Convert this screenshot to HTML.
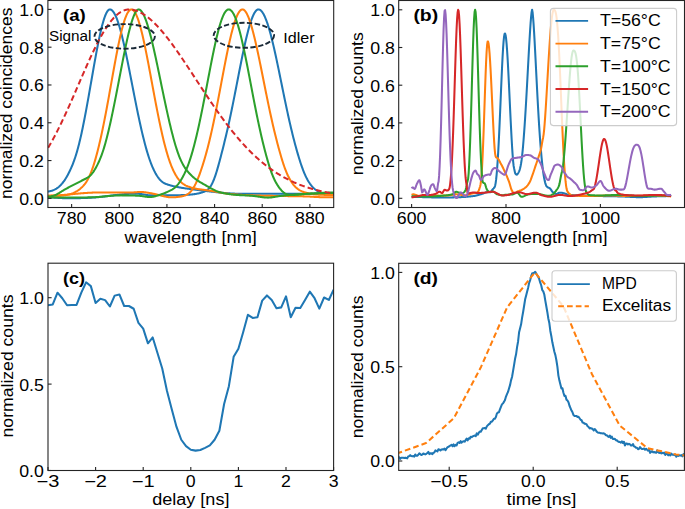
<!DOCTYPE html>
<html><head><meta charset="utf-8"><title>figure</title>
<style>html,body{margin:0;padding:0;background:#fff;width:685px;height:509px;overflow:hidden;}svg text{font-family:"Liberation Sans", sans-serif;fill:#000;}</style>
</head><body>
<svg width="685" height="509" viewBox="0 0 685 509" style="position:absolute;left:0;top:0;font-family:'Liberation Sans', sans-serif;">
<rect x="0" y="0" width="685" height="509" fill="#fff"/>
<defs>
<clipPath id="clipA"><rect x="47.90" y="0.50" width="285.80" height="207.00"/></clipPath>
<clipPath id="clipB"><rect x="398.70" y="0.50" width="285.80" height="207.00"/></clipPath>
<clipPath id="clipC"><rect x="48.00" y="263.20" width="285.60" height="207.30"/></clipPath>
<clipPath id="clipD"><rect x="398.70" y="263.30" width="285.70" height="207.10"/></clipPath>
</defs>
<g clip-path="url(#clipA)">
<polyline points="46.00,191.79 46.50,191.71 47.00,191.64 47.50,191.57 48.00,191.51 48.50,191.44 49.00,191.37 49.50,191.28 50.00,191.19 50.50,191.08 51.00,190.96 51.50,190.83 52.00,190.68 52.50,190.51 53.00,190.33 53.50,190.13 54.00,189.91 54.50,189.68 55.00,189.42 55.50,189.15 56.00,188.85 56.50,188.54 57.00,188.21 57.50,187.85 58.00,187.48 58.50,187.08 59.00,186.66 59.50,186.21 60.00,185.74 60.50,185.25 61.00,184.73 61.50,184.18 62.00,183.61 62.50,183.01 63.00,182.38 63.50,181.73 64.00,181.04 64.50,180.33 65.00,179.58 65.50,178.81 66.00,178.00 66.50,177.17 67.00,176.30 67.50,175.41 68.00,174.49 68.50,173.53 69.00,172.55 69.50,171.54 70.00,170.49 70.50,169.42 71.00,168.31 71.50,167.17 72.00,165.99 72.50,164.78 73.00,163.52 73.50,162.21 74.00,160.86 74.50,159.46 75.00,158.01 75.50,156.50 76.00,154.92 76.50,153.29 77.00,151.59 77.50,149.83 78.00,148.00 78.50,146.11 79.00,144.15 79.50,142.12 80.00,140.04 80.50,137.89 81.00,135.68 81.50,133.41 82.00,131.09 82.50,128.71 83.00,126.29 83.50,123.82 84.00,121.31 84.50,118.75 85.00,116.15 85.50,113.52 86.00,110.85 86.50,108.14 87.00,105.41 87.50,102.65 88.00,99.87 88.50,97.07 89.00,94.24 89.50,91.40 90.00,88.55 90.50,85.69 91.00,82.82 91.50,79.95 92.00,77.08 92.50,74.21 93.00,71.36 93.50,68.51 94.00,65.68 94.50,62.88 95.00,60.09 95.50,57.34 96.00,54.62 96.50,51.93 97.00,49.29 97.50,46.69 98.00,44.15 98.50,41.65 99.00,39.22 99.50,36.85 100.00,34.55 100.50,32.32 101.00,30.17 101.50,28.10 102.00,26.12 102.50,24.22 103.00,22.42 103.50,20.72 104.00,19.12 104.50,17.63 105.00,16.25 105.50,14.98 106.00,13.83 106.50,12.80 107.00,11.90 107.50,11.12 108.00,10.49 108.50,9.99 109.00,9.64 109.50,9.44 110.00,9.41 110.50,9.50 111.00,9.68 111.50,9.97 112.00,10.35 112.50,10.82 113.00,11.40 113.50,12.06 114.00,12.82 114.50,13.67 115.00,14.61 115.50,15.63 116.00,16.75 116.50,17.94 117.00,19.23 117.50,20.59 118.00,22.03 118.50,23.54 119.00,25.14 119.50,26.80 120.00,28.53 120.50,30.33 121.00,32.20 121.50,34.12 122.00,36.11 122.50,38.15 123.00,40.25 123.50,42.39 124.00,44.59 124.50,46.83 125.00,49.11 125.50,51.43 126.00,53.79 126.50,56.18 127.00,58.60 127.50,61.05 128.00,63.52 128.50,66.02 129.00,68.53 129.50,71.06 130.00,73.60 130.50,76.15 131.00,78.71 131.50,81.28 132.00,83.84 132.50,86.41 133.00,88.97 133.50,91.53 134.00,94.08 134.50,96.62 135.00,99.15 135.50,101.66 136.00,104.15 136.50,106.63 137.00,109.08 137.50,111.52 138.00,113.93 138.50,116.31 139.00,118.66 139.50,120.99 140.00,123.28 140.50,125.54 141.00,127.77 141.50,129.96 142.00,132.12 142.50,134.23 143.00,136.31 143.50,138.35 144.00,140.34 144.50,142.29 145.00,144.20 145.50,146.06 146.00,147.87 146.50,149.64 147.00,151.36 147.50,153.03 148.00,154.65 148.50,156.22 149.00,157.74 149.50,159.22 150.00,160.64 150.50,162.02 151.00,163.35 151.50,164.63 152.00,165.86 152.50,167.05 153.00,168.19 153.50,169.29 154.00,170.34 154.50,171.35 155.00,172.32 155.50,173.25 156.00,174.13 156.50,174.97 157.00,175.78 157.50,176.54 158.00,177.27 158.50,177.95 159.00,178.60 159.50,179.20 160.00,179.77 160.50,180.30 161.00,180.79 161.50,181.24 162.00,181.66 162.50,182.04 163.00,182.39 163.50,182.71 164.00,183.00 164.50,183.27 165.00,183.51 165.50,183.74 166.00,183.94 166.50,184.14 167.00,184.32 167.50,184.49 168.00,184.66 168.50,184.81 169.00,184.97 169.50,185.11 170.00,185.26 170.50,185.40 171.00,185.54 171.50,185.67 172.00,185.80 172.50,185.92 173.00,186.05 173.50,186.16 174.00,186.28 174.50,186.39 175.00,186.50 175.50,186.61 176.00,186.72 176.50,186.82 177.00,186.93 177.50,187.03 178.00,187.13 178.50,187.23 179.00,187.33 179.50,187.42 180.00,187.52 180.50,187.61 181.00,187.70 181.50,187.78 182.00,187.87 182.50,187.95 183.00,188.03 183.50,188.11 184.00,188.18 184.50,188.26 185.00,188.33 185.50,188.40 186.00,188.46 186.50,188.53 187.00,188.60 187.50,188.66 188.00,188.73 188.50,188.79 189.00,188.85 189.50,188.92 190.00,188.98 190.50,189.04 191.00,189.11 191.50,189.17 192.00,189.23 192.50,189.30 193.00,189.36 193.50,189.43 194.00,189.49 194.50,189.55 195.00,189.62 195.50,189.68 196.00,189.74 196.50,189.81 197.00,189.87 197.50,189.93 198.00,190.00 198.50,190.06 199.00,190.12 199.50,190.19 200.00,190.25 200.50,190.32 201.00,190.38 201.50,190.44 202.00,190.51 202.50,190.57 203.00,190.63 203.50,190.69 204.00,190.75 204.50,190.81 205.00,190.88 205.50,190.94 206.00,191.00 206.50,191.05 207.00,191.11 207.50,191.17 208.00,191.23 208.50,191.29 209.00,191.35 209.50,191.40 210.00,191.46 210.50,191.52 211.00,191.57 211.50,191.63 212.00,191.69 212.50,191.74 213.00,191.80 213.50,191.85 214.00,191.91 214.50,191.96 215.00,192.01 215.50,192.07 216.00,192.12 216.50,192.18 217.00,192.23 217.50,192.28 218.00,192.34 218.50,192.39 219.00,192.44 219.50,192.50 220.00,192.55 220.50,192.60 221.00,192.65 221.50,192.70 222.00,192.75 222.50,192.80 223.00,192.85 223.50,192.89 224.00,192.94 224.50,192.98 225.00,193.03 225.50,193.07 226.00,193.11 226.50,193.15 227.00,193.18 227.50,193.22 228.00,193.26 228.50,193.29 229.00,193.33 229.50,193.36 230.00,193.39 230.50,193.42 231.00,193.45 231.50,193.48 232.00,193.51 232.50,193.54 233.00,193.57 233.50,193.59 234.00,193.62 234.50,193.64 235.00,193.66 235.50,193.68 236.00,193.70 236.50,193.72 237.00,193.73 237.50,193.75 238.00,193.76 238.50,193.77 239.00,193.78 239.50,193.79 240.00,193.79 240.50,193.80 241.00,193.80 241.50,193.81 242.00,193.81 242.50,193.81 243.00,193.81 243.50,193.81 244.00,193.81 244.50,193.81 245.00,193.81 245.50,193.81 246.00,193.81 246.50,193.82 247.00,193.82 247.50,193.82 248.00,193.82 248.50,193.82 249.00,193.82 249.50,193.82 250.00,193.82 250.50,193.82 251.00,193.82 251.50,193.82 252.00,193.82 252.50,193.82 253.00,193.82 253.50,193.82 254.00,193.82 254.50,193.82 255.00,193.82 255.50,193.82 256.00,193.82 256.50,193.82 257.00,193.82 257.50,193.82 258.00,193.82 258.50,193.82 259.00,193.82 259.50,193.82 260.00,193.82 260.50,193.82 261.00,193.82 261.50,193.82 262.00,193.82 262.50,193.82 263.00,193.82 263.50,193.82 264.00,193.82 264.50,193.82 265.00,193.82 265.50,193.82 266.00,193.82 266.50,193.82 267.00,193.82 267.50,193.82 268.00,193.82 268.50,193.82 269.00,193.82 269.50,193.82 270.00,193.82 270.50,193.82 271.00,193.82 271.50,193.82 272.00,193.82 272.50,193.82 273.00,193.82 273.50,193.82 274.00,193.82 274.50,193.82 275.00,193.82 275.50,193.82 276.00,193.82 276.50,193.82 277.00,193.82 277.50,193.82 278.00,193.82 278.50,193.82 279.00,193.82 279.50,193.82 280.00,193.82 280.50,193.82 281.00,193.82 281.50,193.82 282.00,193.82 282.50,193.82 283.00,193.82 283.50,193.82 284.00,193.82 284.50,193.82 285.00,193.82 285.50,193.82 286.00,193.82 286.50,193.82 287.00,193.82 287.50,193.82 288.00,193.82 288.50,193.82 289.00,193.82 289.50,193.82 290.00,193.82 290.50,193.82 291.00,193.82 291.50,193.82 292.00,193.82 292.50,193.82 293.00,193.82 293.50,193.82 294.00,193.82 294.50,193.82 295.00,193.82 295.50,193.82 296.00,193.82 296.50,193.82 297.00,193.82 297.50,193.82 298.00,193.82 298.50,193.82 299.00,193.82 299.50,193.82 300.00,193.82 300.50,193.82 301.00,193.82 301.50,193.82 302.00,193.82 302.50,193.82 303.00,193.82 303.50,193.82 304.00,193.82 304.50,193.82 305.00,193.82 305.50,193.82 306.00,193.82 306.50,193.82 307.00,193.82 307.50,193.82 308.00,193.82 308.50,193.82 309.00,193.82 309.50,193.82 310.00,193.82 310.50,193.82 311.00,193.82 311.50,193.82 312.00,193.82 312.50,193.82 313.00,193.82 313.50,193.82 314.00,193.82 314.50,193.82 315.00,193.82 315.50,193.82 316.00,193.82 316.50,193.82 317.00,193.82 317.50,193.82 318.00,193.82 318.50,193.82 319.00,193.82 319.50,193.82 320.00,193.82 320.50,193.82 321.00,193.82 321.50,193.82 322.00,193.82 322.50,193.82 323.00,193.82 323.50,193.82 324.00,193.82 324.50,193.82 325.00,193.82 325.50,193.82 326.00,193.82 326.50,193.82 327.00,193.82 327.50,193.82 328.00,193.82 328.50,193.82 329.00,193.82 329.50,193.82 330.00,193.82 330.50,193.82 331.00,193.82 331.50,193.82 332.00,193.82 332.50,193.82 333.00,193.82 333.50,193.82 334.00,193.82 334.50,193.82 335.00,193.82 335.50,193.82 336.00,193.82" fill="none" stroke="#1f77b4" stroke-width="2.05" stroke-linejoin="round" stroke-linecap="butt"/>
<polyline points="46.00,197.41 46.50,197.42 47.00,197.42 47.50,197.42 48.00,197.43 48.50,197.44 49.00,197.45 49.50,197.46 50.00,197.47 50.50,197.48 51.00,197.50 51.50,197.51 52.00,197.53 52.50,197.55 53.00,197.57 53.50,197.60 54.00,197.62 54.50,197.65 55.00,197.68 55.50,197.70 56.00,197.73 56.50,197.76 57.00,197.79 57.50,197.82 58.00,197.86 58.50,197.89 59.00,197.92 59.50,197.95 60.00,197.98 60.50,198.01 61.00,198.04 61.50,198.07 62.00,198.10 62.50,198.12 63.00,198.15 63.50,198.17 64.00,198.19 64.50,198.22 65.00,198.23 65.50,198.25 66.00,198.27 66.50,198.28 67.00,198.29 67.50,198.30 68.00,198.31 68.50,198.31 69.00,198.32 69.50,198.32 70.00,198.32 70.50,198.32 71.00,198.32 71.50,198.32 72.00,198.31 72.50,198.31 73.00,198.30 73.50,198.29 74.00,198.28 74.50,198.28 75.00,198.27 75.50,198.25 76.00,198.24 76.50,198.23 77.00,198.22 77.50,198.21 78.00,198.19 78.50,198.18 79.00,198.16 79.50,198.15 80.00,198.13 80.50,198.12 81.00,198.10 81.50,198.08 82.00,198.07 82.50,198.05 83.00,198.03 83.50,198.01 84.00,197.99 84.50,197.98 85.00,197.96 85.50,197.94 86.00,197.92 86.50,197.90 87.00,197.88 87.50,197.86 88.00,197.83 88.50,197.81 89.00,197.79 89.50,197.77 90.00,197.74 90.50,197.71 91.00,197.69 91.50,197.66 92.00,197.63 92.50,197.60 93.00,197.57 93.50,197.53 94.00,197.50 94.50,197.46 95.00,197.42 95.50,197.38 96.00,197.34 96.50,197.30 97.00,197.25 97.50,197.21 98.00,197.16 98.50,197.11 99.00,197.06 99.50,197.01 100.00,196.96 100.50,196.90 101.00,196.85 101.50,196.80 102.00,196.74 102.50,196.68 103.00,196.63 103.50,196.57 104.00,196.51 104.50,196.45 105.00,196.39 105.50,196.33 106.00,196.27 106.50,196.21 107.00,196.14 107.50,196.08 108.00,196.02 108.50,195.96 109.00,195.89 109.50,195.83 110.00,195.77 110.50,195.71 111.00,195.64 111.50,195.58 112.00,195.52 112.50,195.45 113.00,195.39 113.50,195.33 114.00,195.27 114.50,195.21 115.00,195.14 115.50,195.08 116.00,195.02 116.50,194.97 117.00,194.91 117.50,194.85 118.00,194.79 118.50,194.74 119.00,194.68 119.50,194.63 120.00,194.57 120.50,194.52 121.00,194.47 121.50,194.42 122.00,194.37 122.50,194.32 123.00,194.27 123.50,194.23 124.00,194.18 124.50,194.14 125.00,194.10 125.50,194.06 126.00,194.02 126.50,193.99 127.00,193.95 127.50,193.92 128.00,193.89 128.50,193.86 129.00,193.83 129.50,193.81 130.00,193.78 130.50,193.76 131.00,193.74 131.50,193.73 132.00,193.71 132.50,193.70 133.00,193.69 133.50,193.69 134.00,193.68 134.50,193.68 135.00,193.69 135.50,193.69 136.00,193.70 136.50,193.72 137.00,193.73 137.50,193.75 138.00,193.78 138.50,193.81 139.00,193.85 139.50,193.89 140.00,193.93 140.50,193.98 141.00,194.04 141.50,194.10 142.00,194.17 142.50,194.25 143.00,194.33 143.50,194.41 144.00,194.49 144.50,194.58 145.00,194.67 145.50,194.76 146.00,194.85 146.50,194.93 147.00,195.01 147.50,195.09 148.00,195.16 148.50,195.21 149.00,195.26 149.50,195.30 150.00,195.33 150.50,195.35 151.00,195.35 151.50,195.35 152.00,195.33 152.50,195.31 153.00,195.28 153.50,195.25 154.00,195.22 154.50,195.18 155.00,195.15 155.50,195.12 156.00,195.10 156.50,195.08 157.00,195.06 157.50,195.05 158.00,195.05 158.50,195.05 159.00,195.05 159.50,195.06 160.00,195.07 160.50,195.08 161.00,195.09 161.50,195.10 162.00,195.12 162.50,195.13 163.00,195.15 163.50,195.17 164.00,195.18 164.50,195.20 165.00,195.21 165.50,195.23 166.00,195.24 166.50,195.25 167.00,195.27 167.50,195.28 168.00,195.29 168.50,195.30 169.00,195.31 169.50,195.31 170.00,195.32 170.50,195.32 171.00,195.33 171.50,195.33 172.00,195.33 172.50,195.33 173.00,195.33 173.50,195.32 174.00,195.32 174.50,195.32 175.00,195.31 175.50,195.30 176.00,195.29 176.50,195.28 177.00,195.27 177.50,195.26 178.00,195.25 178.50,195.23 179.00,195.22 179.50,195.20 180.00,195.18 180.50,195.16 181.00,195.14 181.50,195.12 182.00,195.10 182.50,195.08 183.00,195.05 183.50,195.03 184.00,195.00 184.50,194.98 185.00,194.95 185.50,194.92 186.00,194.90 186.50,194.87 187.00,194.84 187.50,194.81 188.00,194.78 188.50,194.75 189.00,194.71 189.50,194.67 190.00,194.64 190.50,194.59 191.00,194.55 191.50,194.50 192.00,194.45 192.50,194.39 193.00,194.33 193.50,194.26 194.00,194.20 194.50,194.12 195.00,194.04 195.50,193.96 196.00,193.88 196.50,193.78 197.00,193.69 197.50,193.59 198.00,193.49 198.50,193.38 199.00,193.26 199.50,193.14 200.00,193.02 200.50,192.89 201.00,192.75 201.50,192.61 202.00,192.46 202.50,192.30 203.00,192.13 203.50,191.96 204.00,191.77 204.50,191.56 205.00,191.34 205.50,191.10 206.00,190.83 206.50,190.53 207.00,190.19 207.50,189.81 208.00,189.39 208.50,188.91 209.00,188.38 209.50,187.78 210.00,187.12 210.50,186.40 211.00,185.60 211.50,184.74 212.00,183.79 212.50,182.78 213.00,181.69 213.50,180.52 214.00,179.28 214.50,177.96 215.00,176.57 215.50,175.11 216.00,173.58 216.50,171.99 217.00,170.34 217.50,168.65 218.00,166.90 218.50,165.11 219.00,163.29 219.50,161.44 220.00,159.56 220.50,157.66 221.00,155.75 221.50,153.81 222.00,151.86 222.50,149.89 223.00,147.91 223.50,145.91 224.00,143.90 224.50,141.86 225.00,139.81 225.50,137.74 226.00,135.64 226.50,133.52 227.00,131.37 227.50,129.20 228.00,126.99 228.50,124.75 229.00,122.49 229.50,120.20 230.00,117.87 230.50,115.52 231.00,113.14 231.50,110.74 232.00,108.31 232.50,105.86 233.00,103.39 233.50,100.89 234.00,98.38 234.50,95.86 235.00,93.32 235.50,90.77 236.00,88.21 236.50,85.65 237.00,83.08 237.50,80.51 238.00,77.94 238.50,75.38 239.00,72.82 239.50,70.27 240.00,67.73 240.50,65.21 241.00,62.71 241.50,60.22 242.00,57.76 242.50,55.33 243.00,52.93 243.50,50.56 244.00,48.22 244.50,45.93 245.00,43.67 245.50,41.47 246.00,39.31 246.50,37.20 247.00,35.15 247.50,33.15 248.00,31.22 248.50,29.34 249.00,27.54 249.50,25.80 250.00,24.14 250.50,22.55 251.00,21.04 251.50,19.61 252.00,18.26 252.50,17.00 253.00,15.82 253.50,14.74 254.00,13.75 254.50,12.85 255.00,12.05 255.50,11.35 256.00,10.76 256.50,10.26 257.00,9.88 257.50,9.60 258.00,9.44 258.50,9.40 259.00,9.47 259.50,9.63 260.00,9.88 260.50,10.22 261.00,10.64 261.50,11.16 262.00,11.76 262.50,12.44 263.00,13.21 263.50,14.06 264.00,15.00 264.50,16.01 265.00,17.11 265.50,18.28 266.00,19.52 266.50,20.84 267.00,22.23 267.50,23.69 268.00,25.22 268.50,26.82 269.00,28.48 269.50,30.20 270.00,31.98 270.50,33.81 271.00,35.70 271.50,37.65 272.00,39.64 272.50,41.68 273.00,43.76 273.50,45.89 274.00,48.06 274.50,50.26 275.00,52.50 275.50,54.77 276.00,57.07 276.50,59.39 277.00,61.74 277.50,64.11 278.00,66.51 278.50,68.91 279.00,71.33 279.50,73.77 280.00,76.21 280.50,78.66 281.00,81.11 281.50,83.56 282.00,86.02 282.50,88.47 283.00,90.92 283.50,93.36 284.00,95.79 284.50,98.21 285.00,100.62 285.50,103.01 286.00,105.39 286.50,107.75 287.00,110.09 287.50,112.40 288.00,114.70 288.50,116.97 289.00,119.21 289.50,121.43 290.00,123.62 290.50,125.79 291.00,127.92 291.50,130.02 292.00,132.10 292.50,134.14 293.00,136.15 293.50,138.13 294.00,140.08 294.50,142.00 295.00,143.90 295.50,145.76 296.00,147.59 296.50,149.39 297.00,151.16 297.50,152.90 298.00,154.62 298.50,156.30 299.00,157.95 299.50,159.56 300.00,161.14 300.50,162.69 301.00,164.20 301.50,165.66 302.00,167.09 302.50,168.47 303.00,169.81 303.50,171.11 304.00,172.35 304.50,173.55 305.00,174.70 305.50,175.81 306.00,176.87 306.50,177.88 307.00,178.84 307.50,179.77 308.00,180.64 308.50,181.48 309.00,182.28 309.50,183.04 310.00,183.77 310.50,184.45 311.00,185.11 311.50,185.72 312.00,186.31 312.50,186.87 313.00,187.39 313.50,187.89 314.00,188.35 314.50,188.79 315.00,189.21 315.50,189.60 316.00,189.97 316.50,190.32 317.00,190.65 317.50,190.96 318.00,191.26 318.50,191.54 319.00,191.81 319.50,192.07 320.00,192.32 320.50,192.56 321.00,192.78 321.50,193.00 322.00,193.22 322.50,193.42 323.00,193.62 323.50,193.80 324.00,193.97 324.50,194.14 325.00,194.29 325.50,194.42 326.00,194.54 326.50,194.65 327.00,194.74 327.50,194.82 328.00,194.88 328.50,194.92 329.00,194.94 329.50,194.95 330.00,194.94 330.50,194.92 331.00,194.87 331.50,194.82 332.00,194.75 332.50,194.66 333.00,194.56 333.50,194.45 334.00,194.32 334.50,194.19 335.00,194.04 335.50,193.88 336.00,193.71" fill="none" stroke="#1f77b4" stroke-width="2.05" stroke-linejoin="round" stroke-linecap="butt"/>
<polyline points="46.00,195.72 46.50,195.71 47.00,195.71 47.50,195.71 48.00,195.71 48.50,195.71 49.00,195.71 49.50,195.71 50.00,195.71 50.50,195.71 51.00,195.71 51.50,195.71 52.00,195.71 52.50,195.71 53.00,195.71 53.50,195.71 54.00,195.71 54.50,195.71 55.00,195.71 55.50,195.71 56.00,195.71 56.50,195.70 57.00,195.70 57.50,195.69 58.00,195.68 58.50,195.67 59.00,195.66 59.50,195.64 60.00,195.63 60.50,195.61 61.00,195.58 61.50,195.55 62.00,195.52 62.50,195.49 63.00,195.45 63.50,195.40 64.00,195.35 64.50,195.29 65.00,195.23 65.50,195.16 66.00,195.09 66.50,195.01 67.00,194.92 67.50,194.82 68.00,194.72 68.50,194.60 69.00,194.48 69.50,194.35 70.00,194.21 70.50,194.06 71.00,193.90 71.50,193.73 72.00,193.54 72.50,193.35 73.00,193.15 73.50,192.93 74.00,192.70 74.50,192.47 75.00,192.21 75.50,191.95 76.00,191.67 76.50,191.38 77.00,191.08 77.50,190.76 78.00,190.43 78.50,190.08 79.00,189.71 79.50,189.33 80.00,188.93 80.50,188.51 81.00,188.08 81.50,187.62 82.00,187.14 82.50,186.65 83.00,186.12 83.50,185.58 84.00,185.00 84.50,184.40 85.00,183.76 85.50,183.09 86.00,182.38 86.50,181.63 87.00,180.83 87.50,179.98 88.00,179.08 88.50,178.13 89.00,177.12 89.50,176.05 90.00,174.93 90.50,173.75 91.00,172.51 91.50,171.21 92.00,169.86 92.50,168.45 93.00,166.98 93.50,165.46 94.00,163.89 94.50,162.26 95.00,160.59 95.50,158.86 96.00,157.08 96.50,155.25 97.00,153.38 97.50,151.46 98.00,149.49 98.50,147.47 99.00,145.41 99.50,143.30 100.00,141.15 100.50,138.96 101.00,136.71 101.50,134.43 102.00,132.11 102.50,129.74 103.00,127.33 103.50,124.88 104.00,122.39 104.50,119.87 105.00,117.31 105.50,114.72 106.00,112.10 106.50,109.45 107.00,106.77 107.50,104.06 108.00,101.34 108.50,98.59 109.00,95.83 109.50,93.05 110.00,90.26 110.50,87.47 111.00,84.67 111.50,81.87 112.00,79.07 112.50,76.27 113.00,73.49 113.50,70.71 114.00,67.96 114.50,65.22 115.00,62.51 115.50,59.82 116.00,57.16 116.50,54.54 117.00,51.96 117.50,49.42 118.00,46.93 118.50,44.49 119.00,42.10 119.50,39.77 120.00,37.50 120.50,35.29 121.00,33.15 121.50,31.09 122.00,29.10 122.50,27.19 123.00,25.36 123.50,23.62 124.00,21.97 124.50,20.41 125.00,18.94 125.50,17.57 126.00,16.29 126.50,15.12 127.00,14.06 127.50,13.10 128.00,12.24 128.50,11.50 129.00,10.86 129.50,10.34 130.00,9.93 130.50,9.64 131.00,9.46 131.50,9.40 132.00,9.47 132.50,9.66 133.00,9.98 133.50,10.41 134.00,10.96 134.50,11.62 135.00,12.39 135.50,13.27 136.00,14.26 136.50,15.34 137.00,16.53 137.50,17.81 138.00,19.19 138.50,20.66 139.00,22.22 139.50,23.86 140.00,25.59 140.50,27.40 141.00,29.28 141.50,31.24 142.00,33.26 142.50,35.36 143.00,37.51 143.50,39.73 144.00,42.00 144.50,44.33 145.00,46.70 145.50,49.12 146.00,51.59 146.50,54.09 147.00,56.62 147.50,59.19 148.00,61.79 148.50,64.41 149.00,67.05 149.50,69.71 150.00,72.38 150.50,75.06 151.00,77.76 151.50,80.45 152.00,83.15 152.50,85.85 153.00,88.54 153.50,91.23 154.00,93.90 154.50,96.57 155.00,99.22 155.50,101.85 156.00,104.46 156.50,107.05 157.00,109.61 157.50,112.15 158.00,114.66 158.50,117.14 159.00,119.59 159.50,122.00 160.00,124.38 160.50,126.72 161.00,129.02 161.50,131.28 162.00,133.50 162.50,135.68 163.00,137.81 163.50,139.89 164.00,141.93 164.50,143.91 165.00,145.85 165.50,147.74 166.00,149.57 166.50,151.35 167.00,153.08 167.50,154.75 168.00,156.38 168.50,157.94 169.00,159.46 169.50,160.92 170.00,162.33 170.50,163.69 171.00,165.00 171.50,166.26 172.00,167.47 172.50,168.63 173.00,169.75 173.50,170.82 174.00,171.84 174.50,172.82 175.00,173.76 175.50,174.66 176.00,175.52 176.50,176.33 177.00,177.11 177.50,177.85 178.00,178.55 178.50,179.22 179.00,179.85 179.50,180.44 180.00,181.00 180.50,181.53 181.00,182.03 181.50,182.49 182.00,182.93 182.50,183.34 183.00,183.73 183.50,184.09 184.00,184.42 184.50,184.74 185.00,185.03 185.50,185.31 186.00,185.57 186.50,185.81 187.00,186.04 187.50,186.25 188.00,186.46 188.50,186.65 189.00,186.83 189.50,187.00 190.00,187.17 190.50,187.32 191.00,187.48 191.50,187.62 192.00,187.76 192.50,187.90 193.00,188.03 193.50,188.15 194.00,188.27 194.50,188.39 195.00,188.50 195.50,188.61 196.00,188.71 196.50,188.81 197.00,188.90 197.50,188.99 198.00,189.08 198.50,189.16 199.00,189.23 199.50,189.31 200.00,189.38 200.50,189.45 201.00,189.51 201.50,189.58 202.00,189.64 202.50,189.70 203.00,189.77 203.50,189.83 204.00,189.89 204.50,189.96 205.00,190.02 205.50,190.09 206.00,190.15 206.50,190.22 207.00,190.29 207.50,190.36 208.00,190.44 208.50,190.51 209.00,190.58 209.50,190.66 210.00,190.73 210.50,190.81 211.00,190.89 211.50,190.97 212.00,191.05 212.50,191.13 213.00,191.22 213.50,191.30 214.00,191.39 214.50,191.48 215.00,191.57 215.50,191.66 216.00,191.76 216.50,191.85 217.00,191.95 217.50,192.04 218.00,192.14 218.50,192.24 219.00,192.33 219.50,192.42 220.00,192.52 220.50,192.61 221.00,192.70 221.50,192.78 222.00,192.87 222.50,192.95 223.00,193.03 223.50,193.11 224.00,193.19 224.50,193.26 225.00,193.33 225.50,193.41 226.00,193.48 226.50,193.54 227.00,193.61 227.50,193.67 228.00,193.74 228.50,193.80 229.00,193.86 229.50,193.92 230.00,193.97 230.50,194.03 231.00,194.08 231.50,194.13 232.00,194.18 232.50,194.22 233.00,194.27 233.50,194.31 234.00,194.35 234.50,194.39 235.00,194.43 235.50,194.47 236.00,194.50 236.50,194.54 237.00,194.57 237.50,194.60 238.00,194.64 238.50,194.67 239.00,194.70 239.50,194.73 240.00,194.76 240.50,194.79 241.00,194.82 241.50,194.84 242.00,194.87 242.50,194.90 243.00,194.93 243.50,194.95 244.00,194.98 244.50,195.00 245.00,195.03 245.50,195.05 246.00,195.08 246.50,195.10 247.00,195.13 247.50,195.15 248.00,195.17 248.50,195.19 249.00,195.22 249.50,195.24 250.00,195.26 250.50,195.28 251.00,195.30 251.50,195.32 252.00,195.34 252.50,195.36 253.00,195.38 253.50,195.40 254.00,195.42 254.50,195.43 255.00,195.45 255.50,195.47 256.00,195.49 256.50,195.50 257.00,195.52 257.50,195.54 258.00,195.55 258.50,195.57 259.00,195.58 259.50,195.60 260.00,195.61 260.50,195.63 261.00,195.64 261.50,195.65 262.00,195.67 262.50,195.68 263.00,195.69 263.50,195.71 264.00,195.72 264.50,195.73 265.00,195.74 265.50,195.76 266.00,195.77 266.50,195.78 267.00,195.79 267.50,195.80 268.00,195.81 268.50,195.82 269.00,195.83 269.50,195.84 270.00,195.85 270.50,195.86 271.00,195.87 271.50,195.88 272.00,195.89 272.50,195.89 273.00,195.90 273.50,195.91 274.00,195.92 274.50,195.93 275.00,195.93 275.50,195.94 276.00,195.95 276.50,195.96 277.00,195.96 277.50,195.97 278.00,195.98 278.50,195.98 279.00,195.99 279.50,196.00 280.00,196.00 280.50,196.01 281.00,196.02 281.50,196.02 282.00,196.03 282.50,196.04 283.00,196.04 283.50,196.05 284.00,196.06 284.50,196.06 285.00,196.07 285.50,196.07 286.00,196.08 286.50,196.09 287.00,196.09 287.50,196.10 288.00,196.11 288.50,196.11 289.00,196.12 289.50,196.13 290.00,196.13 290.50,196.14 291.00,196.15 291.50,196.15 292.00,196.16 292.50,196.17 293.00,196.18 293.50,196.18 294.00,196.19 294.50,196.20 295.00,196.21 295.50,196.22 296.00,196.22 296.50,196.23 297.00,196.24 297.50,196.25 298.00,196.26 298.50,196.27 299.00,196.28 299.50,196.29 300.00,196.30 300.50,196.31 301.00,196.32 301.50,196.33 302.00,196.34 302.50,196.35 303.00,196.36 303.50,196.38 304.00,196.39 304.50,196.40 305.00,196.42 305.50,196.43 306.00,196.45 306.50,196.47 307.00,196.49 307.50,196.51 308.00,196.53 308.50,196.55 309.00,196.57 309.50,196.60 310.00,196.62 310.50,196.65 311.00,196.68 311.50,196.71 312.00,196.74 312.50,196.77 313.00,196.80 313.50,196.83 314.00,196.86 314.50,196.89 315.00,196.92 315.50,196.95 316.00,196.98 316.50,197.01 317.00,197.03 317.50,197.06 318.00,197.08 318.50,197.10 319.00,197.12 319.50,197.14 320.00,197.15 320.50,197.16 321.00,197.17 321.50,197.18 322.00,197.19 322.50,197.20 323.00,197.20 323.50,197.21 324.00,197.21 324.50,197.21 325.00,197.21 325.50,197.21 326.00,197.21 326.50,197.22 327.00,197.22 327.50,197.22 328.00,197.22 328.50,197.22 329.00,197.22 329.50,197.22 330.00,197.22 330.50,197.22 331.00,197.22 331.50,197.22 332.00,197.22 332.50,197.22 333.00,197.22 333.50,197.22 334.00,197.22 334.50,197.22 335.00,197.22 335.50,197.22 336.00,197.22" fill="none" stroke="#ff7f0e" stroke-width="2.05" stroke-linejoin="round" stroke-linecap="butt"/>
<polyline points="46.00,195.70 46.50,195.70 47.00,195.70 47.50,195.69 48.00,195.69 48.50,195.68 49.00,195.68 49.50,195.67 50.00,195.66 50.50,195.65 51.00,195.64 51.50,195.63 52.00,195.62 52.50,195.60 53.00,195.59 53.50,195.57 54.00,195.55 54.50,195.53 55.00,195.51 55.50,195.48 56.00,195.46 56.50,195.43 57.00,195.40 57.50,195.38 58.00,195.35 58.50,195.31 59.00,195.28 59.50,195.25 60.00,195.22 60.50,195.18 61.00,195.14 61.50,195.11 62.00,195.07 62.50,195.03 63.00,194.99 63.50,194.95 64.00,194.91 64.50,194.87 65.00,194.82 65.50,194.78 66.00,194.74 66.50,194.69 67.00,194.65 67.50,194.60 68.00,194.56 68.50,194.51 69.00,194.46 69.50,194.42 70.00,194.37 70.50,194.32 71.00,194.28 71.50,194.23 72.00,194.18 72.50,194.13 73.00,194.08 73.50,194.04 74.00,193.99 74.50,193.94 75.00,193.89 75.50,193.85 76.00,193.80 76.50,193.75 77.00,193.71 77.50,193.66 78.00,193.61 78.50,193.57 79.00,193.52 79.50,193.48 80.00,193.43 80.50,193.39 81.00,193.35 81.50,193.31 82.00,193.26 82.50,193.22 83.00,193.18 83.50,193.14 84.00,193.11 84.50,193.07 85.00,193.03 85.50,193.00 86.00,192.96 86.50,192.93 87.00,192.90 87.50,192.86 88.00,192.83 88.50,192.80 89.00,192.78 89.50,192.75 90.00,192.72 90.50,192.70 91.00,192.68 91.50,192.66 92.00,192.64 92.50,192.62 93.00,192.60 93.50,192.59 94.00,192.57 94.50,192.56 95.00,192.55 95.50,192.54 96.00,192.53 96.50,192.52 97.00,192.52 97.50,192.51 98.00,192.51 98.50,192.50 99.00,192.50 99.50,192.50 100.00,192.50 100.50,192.50 101.00,192.49 101.50,192.49 102.00,192.49 102.50,192.49 103.00,192.49 103.50,192.49 104.00,192.49 104.50,192.49 105.00,192.49 105.50,192.49 106.00,192.49 106.50,192.49 107.00,192.49 107.50,192.49 108.00,192.49 108.50,192.49 109.00,192.49 109.50,192.49 110.00,192.49 110.50,192.49 111.00,192.49 111.50,192.49 112.00,192.49 112.50,192.49 113.00,192.49 113.50,192.49 114.00,192.49 114.50,192.49 115.00,192.49 115.50,192.49 116.00,192.49 116.50,192.49 117.00,192.49 117.50,192.49 118.00,192.49 118.50,192.49 119.00,192.49 119.50,192.49 120.00,192.49 120.50,192.49 121.00,192.49 121.50,192.49 122.00,192.49 122.50,192.49 123.00,192.49 123.50,192.49 124.00,192.49 124.50,192.49 125.00,192.49 125.50,192.49 126.00,192.49 126.50,192.49 127.00,192.49 127.50,192.49 128.00,192.49 128.50,192.49 129.00,192.49 129.50,192.49 130.00,192.49 130.50,192.48 131.00,192.48 131.50,192.47 132.00,192.46 132.50,192.45 133.00,192.43 133.50,192.41 134.00,192.39 134.50,192.36 135.00,192.33 135.50,192.29 136.00,192.26 136.50,192.22 137.00,192.17 137.50,192.13 138.00,192.09 138.50,192.06 139.00,192.03 139.50,192.01 140.00,191.99 140.50,191.98 141.00,191.98 141.50,191.99 142.00,192.01 142.50,192.04 143.00,192.08 143.50,192.12 144.00,192.17 144.50,192.23 145.00,192.30 145.50,192.36 146.00,192.44 146.50,192.51 147.00,192.59 147.50,192.67 148.00,192.75 148.50,192.84 149.00,192.93 149.50,193.01 150.00,193.10 150.50,193.19 151.00,193.29 151.50,193.38 152.00,193.48 152.50,193.58 153.00,193.67 153.50,193.78 154.00,193.88 154.50,193.98 155.00,194.09 155.50,194.20 156.00,194.31 156.50,194.42 157.00,194.54 157.50,194.65 158.00,194.77 158.50,194.89 159.00,195.01 159.50,195.14 160.00,195.26 160.50,195.39 161.00,195.52 161.50,195.65 162.00,195.78 162.50,195.90 163.00,196.03 163.50,196.16 164.00,196.28 164.50,196.40 165.00,196.51 165.50,196.62 166.00,196.72 166.50,196.82 167.00,196.91 167.50,196.99 168.00,197.06 168.50,197.13 169.00,197.18 169.50,197.23 170.00,197.27 170.50,197.30 171.00,197.32 171.50,197.33 172.00,197.34 172.50,197.34 173.00,197.33 173.50,197.32 174.00,197.30 174.50,197.27 175.00,197.24 175.50,197.20 176.00,197.15 176.50,197.10 177.00,197.05 177.50,196.99 178.00,196.92 178.50,196.85 179.00,196.78 179.50,196.71 180.00,196.63 180.50,196.54 181.00,196.46 181.50,196.37 182.00,196.27 182.50,196.16 183.00,196.05 183.50,195.92 184.00,195.79 184.50,195.63 185.00,195.46 185.50,195.27 186.00,195.05 186.50,194.81 187.00,194.54 187.50,194.24 188.00,193.91 188.50,193.54 189.00,193.14 189.50,192.70 190.00,192.22 190.50,191.70 191.00,191.15 191.50,190.55 192.00,189.91 192.50,189.23 193.00,188.50 193.50,187.73 194.00,186.90 194.50,186.03 195.00,185.10 195.50,184.12 196.00,183.09 196.50,182.01 197.00,180.87 197.50,179.69 198.00,178.46 198.50,177.19 199.00,175.88 199.50,174.53 200.00,173.14 200.50,171.72 201.00,170.27 201.50,168.78 202.00,167.27 202.50,165.72 203.00,164.14 203.50,162.53 204.00,160.89 204.50,159.21 205.00,157.50 205.50,155.75 206.00,153.96 206.50,152.14 207.00,150.28 207.50,148.39 208.00,146.46 208.50,144.48 209.00,142.47 209.50,140.43 210.00,138.34 210.50,136.22 211.00,134.06 211.50,131.86 212.00,129.62 212.50,127.35 213.00,125.04 213.50,122.70 214.00,120.33 214.50,117.92 215.00,115.49 215.50,113.02 216.00,110.53 216.50,108.01 217.00,105.47 217.50,102.91 218.00,100.33 218.50,97.73 219.00,95.12 219.50,92.49 220.00,89.86 220.50,87.21 221.00,84.57 221.50,81.92 222.00,79.28 222.50,76.63 223.00,74.00 223.50,71.38 224.00,68.76 224.50,66.17 225.00,63.59 225.50,61.04 226.00,58.51 226.50,56.01 227.00,53.55 227.50,51.12 228.00,48.73 228.50,46.38 229.00,44.07 229.50,41.82 230.00,39.61 230.50,37.46 231.00,35.37 231.50,33.34 232.00,31.38 232.50,29.48 233.00,27.65 233.50,25.89 234.00,24.21 234.50,22.61 235.00,21.09 235.50,19.65 236.00,18.30 236.50,17.03 237.00,15.86 237.50,14.78 238.00,13.79 238.50,12.90 239.00,12.10 239.50,11.41 240.00,10.81 240.50,10.32 241.00,9.93 241.50,9.65 242.00,9.47 242.50,9.40 243.00,9.46 243.50,9.65 244.00,9.96 244.50,10.39 245.00,10.92 245.50,11.56 246.00,12.30 246.50,13.14 247.00,14.08 247.50,15.11 248.00,16.23 248.50,17.43 249.00,18.73 249.50,20.10 250.00,21.55 250.50,23.08 251.00,24.69 251.50,26.36 252.00,28.11 252.50,29.91 253.00,31.78 253.50,33.71 254.00,35.70 254.50,37.74 255.00,39.83 255.50,41.97 256.00,44.15 256.50,46.37 257.00,48.63 257.50,50.93 258.00,53.26 258.50,55.61 259.00,58.00 259.50,60.41 260.00,62.84 260.50,65.29 261.00,67.75 261.50,70.23 262.00,72.71 262.50,75.21 263.00,77.71 263.50,80.21 264.00,82.71 264.50,85.21 265.00,87.71 265.50,90.20 266.00,92.68 266.50,95.14 267.00,97.60 267.50,100.04 268.00,102.46 268.50,104.87 269.00,107.26 269.50,109.62 270.00,111.96 270.50,114.27 271.00,116.56 271.50,118.82 272.00,121.06 272.50,123.26 273.00,125.44 273.50,127.58 274.00,129.70 274.50,131.78 275.00,133.84 275.50,135.86 276.00,137.86 276.50,139.83 277.00,141.77 277.50,143.68 278.00,145.57 278.50,147.43 279.00,149.26 279.50,151.06 280.00,152.84 280.50,154.59 281.00,156.30 281.50,157.98 282.00,159.63 282.50,161.23 283.00,162.80 283.50,164.32 284.00,165.79 284.50,167.22 285.00,168.60 285.50,169.92 286.00,171.20 286.50,172.42 287.00,173.59 287.50,174.71 288.00,175.79 288.50,176.81 289.00,177.79 289.50,178.72 290.00,179.61 290.50,180.46 291.00,181.27 291.50,182.04 292.00,182.77 292.50,183.47 293.00,184.13 293.50,184.76 294.00,185.36 294.50,185.93 295.00,186.46 295.50,186.97 296.00,187.45 296.50,187.90 297.00,188.33 297.50,188.73 298.00,189.10 298.50,189.46 299.00,189.79 299.50,190.10 300.00,190.39 300.50,190.66 301.00,190.91 301.50,191.15 302.00,191.37 302.50,191.58 303.00,191.77 303.50,191.95 304.00,192.12 304.50,192.28 305.00,192.44 305.50,192.58 306.00,192.72 306.50,192.85 307.00,192.97 307.50,193.09 308.00,193.21 308.50,193.32 309.00,193.42 309.50,193.52 310.00,193.61 310.50,193.70 311.00,193.79 311.50,193.87 312.00,193.94 312.50,194.02 313.00,194.08 313.50,194.15 314.00,194.21 314.50,194.27 315.00,194.33 315.50,194.38 316.00,194.43 316.50,194.47 317.00,194.52 317.50,194.56 318.00,194.60 318.50,194.63 319.00,194.66 319.50,194.69 320.00,194.72 320.50,194.75 321.00,194.77 321.50,194.79 322.00,194.81 322.50,194.82 323.00,194.84 323.50,194.85 324.00,194.86 324.50,194.87 325.00,194.88 325.50,194.89 326.00,194.90 326.50,194.90 327.00,194.91 327.50,194.91 328.00,194.92 328.50,194.92 329.00,194.93 329.50,194.93 330.00,194.93 330.50,194.93 331.00,194.94 331.50,194.94 332.00,194.94 332.50,194.94 333.00,194.95 333.50,194.95 334.00,194.95 334.50,194.96 335.00,194.96 335.50,194.97 336.00,194.97" fill="none" stroke="#ff7f0e" stroke-width="2.05" stroke-linejoin="round" stroke-linecap="butt"/>
<polyline points="46.00,196.66 46.50,196.67 47.00,196.68 47.50,196.67 48.00,196.66 48.50,196.63 49.00,196.59 49.50,196.54 50.00,196.48 50.50,196.41 51.00,196.33 51.50,196.23 52.00,196.12 52.50,196.00 53.00,195.87 53.50,195.72 54.00,195.56 54.50,195.38 55.00,195.18 55.50,194.97 56.00,194.75 56.50,194.51 57.00,194.25 57.50,193.98 58.00,193.69 58.50,193.40 59.00,193.10 59.50,192.79 60.00,192.47 60.50,192.15 61.00,191.83 61.50,191.51 62.00,191.20 62.50,190.89 63.00,190.58 63.50,190.28 64.00,189.98 64.50,189.69 65.00,189.40 65.50,189.12 66.00,188.84 66.50,188.56 67.00,188.29 67.50,188.02 68.00,187.75 68.50,187.49 69.00,187.22 69.50,186.96 70.00,186.70 70.50,186.43 71.00,186.17 71.50,185.91 72.00,185.65 72.50,185.40 73.00,185.14 73.50,184.89 74.00,184.63 74.50,184.38 75.00,184.13 75.50,183.88 76.00,183.62 76.50,183.37 77.00,183.11 77.50,182.86 78.00,182.60 78.50,182.34 79.00,182.08 79.50,181.82 80.00,181.56 80.50,181.30 81.00,181.04 81.50,180.78 82.00,180.53 82.50,180.28 83.00,180.02 83.50,179.77 84.00,179.52 84.50,179.27 85.00,179.02 85.50,178.76 86.00,178.50 86.50,178.23 87.00,177.94 87.50,177.64 88.00,177.31 88.50,176.96 89.00,176.58 89.50,176.18 90.00,175.73 90.50,175.26 91.00,174.74 91.50,174.19 92.00,173.59 92.50,172.96 93.00,172.29 93.50,171.58 94.00,170.83 94.50,170.05 95.00,169.23 95.50,168.38 96.00,167.50 96.50,166.58 97.00,165.63 97.50,164.64 98.00,163.62 98.50,162.56 99.00,161.46 99.50,160.32 100.00,159.14 100.50,157.91 101.00,156.63 101.50,155.30 102.00,153.92 102.50,152.48 103.00,150.99 103.50,149.44 104.00,147.83 104.50,146.16 105.00,144.44 105.50,142.66 106.00,140.83 106.50,138.94 107.00,137.00 107.50,135.01 108.00,132.98 108.50,130.90 109.00,128.78 109.50,126.62 110.00,124.42 110.50,122.18 111.00,119.91 111.50,117.61 112.00,115.27 112.50,112.90 113.00,110.50 113.50,108.08 114.00,105.63 114.50,103.16 115.00,100.66 115.50,98.15 116.00,95.61 116.50,93.06 117.00,90.50 117.50,87.92 118.00,85.34 118.50,82.75 119.00,80.15 119.50,77.55 120.00,74.95 120.50,72.36 121.00,69.77 121.50,67.19 122.00,64.63 122.50,62.08 123.00,59.54 123.50,57.03 124.00,54.55 124.50,52.09 125.00,49.66 125.50,47.27 126.00,44.91 126.50,42.60 127.00,40.33 127.50,38.12 128.00,35.95 128.50,33.84 129.00,31.79 129.50,29.81 130.00,27.89 130.50,26.04 131.00,24.27 131.50,22.57 132.00,20.96 132.50,19.43 133.00,17.99 133.50,16.65 134.00,15.40 134.50,14.26 135.00,13.22 135.50,12.29 136.00,11.48 136.50,10.79 137.00,10.23 137.50,9.80 138.00,9.52 138.50,9.40 139.00,9.46 139.50,9.63 140.00,9.91 140.50,10.29 141.00,10.77 141.50,11.35 142.00,12.02 142.50,12.77 143.00,13.62 143.50,14.55 144.00,15.57 144.50,16.67 145.00,17.85 145.50,19.11 146.00,20.44 146.50,21.84 147.00,23.32 147.50,24.86 148.00,26.47 148.50,28.14 149.00,29.88 149.50,31.67 150.00,33.51 150.50,35.41 151.00,37.37 151.50,39.36 152.00,41.41 152.50,43.50 153.00,45.62 153.50,47.79 154.00,49.99 154.50,52.22 155.00,54.48 155.50,56.77 156.00,59.08 156.50,61.42 157.00,63.77 157.50,66.14 158.00,68.53 158.50,70.92 159.00,73.33 159.50,75.74 160.00,78.16 160.50,80.58 161.00,83.01 161.50,85.43 162.00,87.84 162.50,90.25 163.00,92.66 163.50,95.05 164.00,97.43 164.50,99.80 165.00,102.15 165.50,104.49 166.00,106.81 166.50,109.11 167.00,111.38 167.50,113.64 168.00,115.87 168.50,118.07 169.00,120.25 169.50,122.40 170.00,124.52 170.50,126.60 171.00,128.66 171.50,130.68 172.00,132.67 172.50,134.62 173.00,136.53 173.50,138.40 174.00,140.22 174.50,142.01 175.00,143.74 175.50,145.43 176.00,147.07 176.50,148.65 177.00,150.19 177.50,151.67 178.00,153.10 178.50,154.47 179.00,155.79 179.50,157.06 180.00,158.27 180.50,159.44 181.00,160.55 181.50,161.61 182.00,162.63 182.50,163.60 183.00,164.53 183.50,165.42 184.00,166.27 184.50,167.08 185.00,167.85 185.50,168.59 186.00,169.30 186.50,169.98 187.00,170.63 187.50,171.25 188.00,171.85 188.50,172.43 189.00,172.99 189.50,173.53 190.00,174.06 190.50,174.57 191.00,175.06 191.50,175.54 192.00,176.02 192.50,176.47 193.00,176.92 193.50,177.36 194.00,177.79 194.50,178.20 195.00,178.61 195.50,179.00 196.00,179.38 196.50,179.75 197.00,180.11 197.50,180.46 198.00,180.80 198.50,181.13 199.00,181.45 199.50,181.76 200.00,182.06 200.50,182.36 201.00,182.65 201.50,182.94 202.00,183.23 202.50,183.51 203.00,183.80 203.50,184.08 204.00,184.36 204.50,184.65 205.00,184.94 205.50,185.22 206.00,185.51 206.50,185.80 207.00,186.09 207.50,186.37 208.00,186.66 208.50,186.95 209.00,187.23 209.50,187.51 210.00,187.79 210.50,188.07 211.00,188.35 211.50,188.62 212.00,188.89 212.50,189.16 213.00,189.42 213.50,189.68 214.00,189.93 214.50,190.18 215.00,190.42 215.50,190.65 216.00,190.88 216.50,191.09 217.00,191.30 217.50,191.49 218.00,191.67 218.50,191.85 219.00,192.01 219.50,192.17 220.00,192.31 220.50,192.45 221.00,192.58 221.50,192.70 222.00,192.81 222.50,192.92 223.00,193.02 223.50,193.12 224.00,193.21 224.50,193.31 225.00,193.39 225.50,193.48 226.00,193.56 226.50,193.65 227.00,193.73 227.50,193.81 228.00,193.89 228.50,193.97 229.00,194.04 229.50,194.12 230.00,194.19 230.50,194.27 231.00,194.34 231.50,194.40 232.00,194.47 232.50,194.53 233.00,194.59 233.50,194.65 234.00,194.70 234.50,194.75 235.00,194.80 235.50,194.84 236.00,194.88 236.50,194.92 237.00,194.96 237.50,194.99 238.00,195.02 238.50,195.05 239.00,195.08 239.50,195.11 240.00,195.14 240.50,195.16 241.00,195.19 241.50,195.21 242.00,195.23 242.50,195.25 243.00,195.28 243.50,195.30 244.00,195.32 244.50,195.34 245.00,195.37 245.50,195.39 246.00,195.41 246.50,195.44 247.00,195.46 247.50,195.49 248.00,195.52 248.50,195.55 249.00,195.58 249.50,195.61 250.00,195.64 250.50,195.68 251.00,195.72 251.50,195.76 252.00,195.80 252.50,195.85 253.00,195.90 253.50,195.95 254.00,196.01 254.50,196.07 255.00,196.13 255.50,196.19 256.00,196.26 256.50,196.33 257.00,196.40 257.50,196.47 258.00,196.55 258.50,196.62 259.00,196.69 259.50,196.77 260.00,196.84 260.50,196.91 261.00,196.99 261.50,197.06 262.00,197.12 262.50,197.19 263.00,197.25 263.50,197.31 264.00,197.37 264.50,197.42 265.00,197.46 265.50,197.50 266.00,197.54 266.50,197.56 267.00,197.58 267.50,197.60 268.00,197.60 268.50,197.60 269.00,197.58 269.50,197.56 270.00,197.53 270.50,197.49 271.00,197.44 271.50,197.38 272.00,197.32 272.50,197.25 273.00,197.17 273.50,197.09 274.00,197.00 274.50,196.92 275.00,196.83 275.50,196.74 276.00,196.65 276.50,196.57 277.00,196.48 277.50,196.40 278.00,196.32 278.50,196.24 279.00,196.17 279.50,196.10 280.00,196.03 280.50,195.96 281.00,195.90 281.50,195.84 282.00,195.78 282.50,195.72 283.00,195.66 283.50,195.61 284.00,195.55 284.50,195.50 285.00,195.45 285.50,195.40 286.00,195.35 286.50,195.30 287.00,195.25 287.50,195.20 288.00,195.15 288.50,195.11 289.00,195.06 289.50,195.02 290.00,194.97 290.50,194.93 291.00,194.89 291.50,194.84 292.00,194.80 292.50,194.76 293.00,194.72 293.50,194.68 294.00,194.64 294.50,194.60 295.00,194.57 295.50,194.53 296.00,194.49 296.50,194.46 297.00,194.42 297.50,194.38 298.00,194.35 298.50,194.32 299.00,194.28 299.50,194.25 300.00,194.22 300.50,194.18 301.00,194.15 301.50,194.12 302.00,194.09 302.50,194.06 303.00,194.03 303.50,194.00 304.00,193.98 304.50,193.95 305.00,193.92 305.50,193.90 306.00,193.87 306.50,193.85 307.00,193.82 307.50,193.80 308.00,193.78 308.50,193.75 309.00,193.73 309.50,193.71 310.00,193.68 310.50,193.66 311.00,193.64 311.50,193.62 312.00,193.60 312.50,193.58 313.00,193.55 313.50,193.53 314.00,193.51 314.50,193.49 315.00,193.47 315.50,193.45 316.00,193.43 316.50,193.41 317.00,193.39 317.50,193.37 318.00,193.35 318.50,193.33 319.00,193.32 319.50,193.30 320.00,193.28 320.50,193.26 321.00,193.24 321.50,193.23 322.00,193.21 322.50,193.19 323.00,193.18 323.50,193.16 324.00,193.14 324.50,193.13 325.00,193.11 325.50,193.10 326.00,193.08 326.50,193.07 327.00,193.06 327.50,193.04 328.00,193.03 328.50,193.02 329.00,193.00 329.50,192.99 330.00,192.98 330.50,192.97 331.00,192.96 331.50,192.95 332.00,192.94 332.50,192.93 333.00,192.92 333.50,192.91 334.00,192.91 334.50,192.90 335.00,192.89 335.50,192.89 336.00,192.88" fill="none" stroke="#2ca02c" stroke-width="2.05" stroke-linejoin="round" stroke-linecap="butt"/>
<polyline points="46.00,197.41 46.50,197.41 47.00,197.41 47.50,197.41 48.00,197.41 48.50,197.41 49.00,197.41 49.50,197.41 50.00,197.41 50.50,197.41 51.00,197.41 51.50,197.41 52.00,197.41 52.50,197.41 53.00,197.41 53.50,197.41 54.00,197.41 54.50,197.41 55.00,197.41 55.50,197.41 56.00,197.41 56.50,197.41 57.00,197.41 57.50,197.41 58.00,197.41 58.50,197.41 59.00,197.41 59.50,197.41 60.00,197.41 60.50,197.41 61.00,197.41 61.50,197.41 62.00,197.41 62.50,197.41 63.00,197.41 63.50,197.41 64.00,197.41 64.50,197.41 65.00,197.41 65.50,197.41 66.00,197.41 66.50,197.41 67.00,197.41 67.50,197.41 68.00,197.41 68.50,197.41 69.00,197.41 69.50,197.41 70.00,197.41 70.50,197.41 71.00,197.41 71.50,197.41 72.00,197.41 72.50,197.41 73.00,197.41 73.50,197.41 74.00,197.41 74.50,197.41 75.00,197.41 75.50,197.41 76.00,197.41 76.50,197.41 77.00,197.41 77.50,197.41 78.00,197.41 78.50,197.41 79.00,197.41 79.50,197.41 80.00,197.41 80.50,197.41 81.00,197.41 81.50,197.41 82.00,197.41 82.50,197.41 83.00,197.41 83.50,197.40 84.00,197.40 84.50,197.40 85.00,197.40 85.50,197.40 86.00,197.40 86.50,197.40 87.00,197.40 87.50,197.40 88.00,197.39 88.50,197.39 89.00,197.39 89.50,197.38 90.00,197.37 90.50,197.36 91.00,197.35 91.50,197.34 92.00,197.33 92.50,197.31 93.00,197.29 93.50,197.27 94.00,197.25 94.50,197.22 95.00,197.20 95.50,197.17 96.00,197.14 96.50,197.10 97.00,197.07 97.50,197.04 98.00,197.00 98.50,196.96 99.00,196.92 99.50,196.88 100.00,196.84 100.50,196.79 101.00,196.75 101.50,196.70 102.00,196.66 102.50,196.61 103.00,196.56 103.50,196.52 104.00,196.47 104.50,196.42 105.00,196.37 105.50,196.32 106.00,196.27 106.50,196.23 107.00,196.18 107.50,196.13 108.00,196.08 108.50,196.04 109.00,195.99 109.50,195.95 110.00,195.90 110.50,195.86 111.00,195.82 111.50,195.78 112.00,195.74 112.50,195.70 113.00,195.67 113.50,195.63 114.00,195.60 114.50,195.57 115.00,195.54 115.50,195.51 116.00,195.49 116.50,195.47 117.00,195.45 117.50,195.43 118.00,195.41 118.50,195.40 119.00,195.38 119.50,195.37 120.00,195.37 120.50,195.36 121.00,195.35 121.50,195.35 122.00,195.35 122.50,195.35 123.00,195.35 123.50,195.35 124.00,195.36 124.50,195.36 125.00,195.36 125.50,195.37 126.00,195.38 126.50,195.38 127.00,195.39 127.50,195.40 128.00,195.41 128.50,195.42 129.00,195.43 129.50,195.44 130.00,195.45 130.50,195.46 131.00,195.47 131.50,195.49 132.00,195.50 132.50,195.51 133.00,195.53 133.50,195.54 134.00,195.56 134.50,195.57 135.00,195.59 135.50,195.61 136.00,195.63 136.50,195.65 137.00,195.67 137.50,195.70 138.00,195.73 138.50,195.76 139.00,195.80 139.50,195.84 140.00,195.88 140.50,195.93 141.00,195.98 141.50,196.04 142.00,196.10 142.50,196.17 143.00,196.24 143.50,196.31 144.00,196.39 144.50,196.46 145.00,196.54 145.50,196.61 146.00,196.68 146.50,196.75 147.00,196.81 147.50,196.87 148.00,196.91 148.50,196.95 149.00,196.98 149.50,197.00 150.00,197.01 150.50,197.00 151.00,196.97 151.50,196.94 152.00,196.89 152.50,196.82 153.00,196.74 153.50,196.65 154.00,196.54 154.50,196.42 155.00,196.30 155.50,196.16 156.00,196.02 156.50,195.87 157.00,195.72 157.50,195.56 158.00,195.40 158.50,195.24 159.00,195.08 159.50,194.92 160.00,194.75 160.50,194.59 161.00,194.42 161.50,194.25 162.00,194.07 162.50,193.90 163.00,193.71 163.50,193.53 164.00,193.34 164.50,193.14 165.00,192.94 165.50,192.73 166.00,192.52 166.50,192.31 167.00,192.09 167.50,191.86 168.00,191.63 168.50,191.40 169.00,191.16 169.50,190.92 170.00,190.67 170.50,190.41 171.00,190.15 171.50,189.87 172.00,189.59 172.50,189.29 173.00,188.97 173.50,188.63 174.00,188.27 174.50,187.88 175.00,187.46 175.50,187.02 176.00,186.54 176.50,186.03 177.00,185.49 177.50,184.92 178.00,184.31 178.50,183.67 179.00,182.99 179.50,182.29 180.00,181.56 180.50,180.79 181.00,180.00 181.50,179.18 182.00,178.33 182.50,177.44 183.00,176.53 183.50,175.59 184.00,174.61 184.50,173.60 185.00,172.55 185.50,171.46 186.00,170.33 186.50,169.15 187.00,167.94 187.50,166.67 188.00,165.36 188.50,164.00 189.00,162.59 189.50,161.14 190.00,159.64 190.50,158.09 191.00,156.49 191.50,154.84 192.00,153.15 192.50,151.42 193.00,149.63 193.50,147.81 194.00,145.93 194.50,144.02 195.00,142.06 195.50,140.06 196.00,138.01 196.50,135.93 197.00,133.80 197.50,131.64 198.00,129.44 198.50,127.20 199.00,124.92 199.50,122.61 200.00,120.27 200.50,117.89 201.00,115.48 201.50,113.05 202.00,110.59 202.50,108.10 203.00,105.59 203.50,103.06 204.00,100.51 204.50,97.94 205.00,95.35 205.50,92.76 206.00,90.15 206.50,87.54 207.00,84.92 207.50,82.30 208.00,79.67 208.50,77.06 209.00,74.44 209.50,71.84 210.00,69.25 210.50,66.67 211.00,64.11 211.50,61.57 212.00,59.06 212.50,56.57 213.00,54.11 213.50,51.69 214.00,49.30 214.50,46.95 215.00,44.65 215.50,42.39 216.00,40.18 216.50,38.03 217.00,35.93 217.50,33.89 218.00,31.91 218.50,30.00 219.00,28.15 219.50,26.38 220.00,24.68 220.50,23.05 221.00,21.51 221.50,20.04 222.00,18.66 222.50,17.37 223.00,16.17 223.50,15.06 224.00,14.04 224.50,13.11 225.00,12.29 225.50,11.56 226.00,10.94 226.50,10.42 227.00,10.00 227.50,9.69 228.00,9.49 228.50,9.40 229.00,9.43 229.50,9.54 230.00,9.75 230.50,10.05 231.00,10.44 231.50,10.93 232.00,11.51 232.50,12.19 233.00,12.96 233.50,13.81 234.00,14.76 234.50,15.80 235.00,16.92 235.50,18.13 236.00,19.43 236.50,20.80 237.00,22.26 237.50,23.80 238.00,25.41 238.50,27.09 239.00,28.85 239.50,30.68 240.00,32.57 240.50,34.53 241.00,36.55 241.50,38.63 242.00,40.76 242.50,42.95 243.00,45.19 243.50,47.47 244.00,49.80 244.50,52.17 245.00,54.58 245.50,57.02 246.00,59.49 246.50,61.99 247.00,64.52 247.50,67.07 248.00,69.64 248.50,72.22 249.00,74.82 249.50,77.43 250.00,80.05 250.50,82.67 251.00,85.29 251.50,87.91 252.00,90.53 252.50,93.14 253.00,95.74 253.50,98.34 254.00,100.91 254.50,103.48 255.00,106.02 255.50,108.54 256.00,111.04 256.50,113.52 257.00,115.97 257.50,118.40 258.00,120.79 258.50,123.15 259.00,125.49 259.50,127.79 260.00,130.06 260.50,132.29 261.00,134.49 261.50,136.66 262.00,138.80 262.50,140.90 263.00,142.97 263.50,145.01 264.00,147.02 264.50,148.99 265.00,150.93 265.50,152.84 266.00,154.71 266.50,156.55 267.00,158.35 267.50,160.11 268.00,161.83 268.50,163.50 269.00,165.13 269.50,166.71 270.00,168.25 270.50,169.73 271.00,171.16 271.50,172.54 272.00,173.86 272.50,175.13 273.00,176.35 273.50,177.52 274.00,178.63 274.50,179.70 275.00,180.72 275.50,181.69 276.00,182.62 276.50,183.50 277.00,184.35 277.50,185.16 278.00,185.93 278.50,186.67 279.00,187.38 279.50,188.05 280.00,188.69 280.50,189.30 281.00,189.87 281.50,190.42 282.00,190.93 282.50,191.41 283.00,191.86 283.50,192.28 284.00,192.66 284.50,193.01 285.00,193.32 285.50,193.60 286.00,193.85 286.50,194.06 287.00,194.24 287.50,194.40 288.00,194.53 288.50,194.63 289.00,194.72 289.50,194.78 290.00,194.83 290.50,194.87 291.00,194.89 291.50,194.91 292.00,194.92 292.50,194.92 293.00,194.92 293.50,194.91 294.00,194.90 294.50,194.88 295.00,194.86 295.50,194.84 296.00,194.81 296.50,194.78 297.00,194.75 297.50,194.71 298.00,194.67 298.50,194.63 299.00,194.58 299.50,194.54 300.00,194.49 300.50,194.44 301.00,194.39 301.50,194.34 302.00,194.30 302.50,194.25 303.00,194.20 303.50,194.15 304.00,194.11 304.50,194.06 305.00,194.02 305.50,193.98 306.00,193.94 306.50,193.90 307.00,193.86 307.50,193.83 308.00,193.79 308.50,193.76 309.00,193.73 309.50,193.70 310.00,193.66 310.50,193.63 311.00,193.60 311.50,193.57 312.00,193.53 312.50,193.50 313.00,193.47 313.50,193.44 314.00,193.40 314.50,193.37 315.00,193.34 315.50,193.31 316.00,193.28 316.50,193.24 317.00,193.21 317.50,193.18 318.00,193.15 318.50,193.12 319.00,193.09 319.50,193.06 320.00,193.03 320.50,193.00 321.00,192.97 321.50,192.94 322.00,192.92 322.50,192.89 323.00,192.87 323.50,192.84 324.00,192.82 324.50,192.79 325.00,192.77 325.50,192.75 326.00,192.73 326.50,192.71 327.00,192.69 327.50,192.67 328.00,192.65 328.50,192.64 329.00,192.62 329.50,192.61 330.00,192.59 330.50,192.58 331.00,192.57 331.50,192.56 332.00,192.55 332.50,192.54 333.00,192.53 333.50,192.53 334.00,192.52 334.50,192.52 335.00,192.52 335.50,192.51 336.00,192.51" fill="none" stroke="#2ca02c" stroke-width="2.05" stroke-linejoin="round" stroke-linecap="butt"/>
<polyline points="46.00,151.27 46.50,150.47 47.00,149.65 47.50,148.83 48.00,148.00 48.50,147.16 49.00,146.31 49.50,145.45 50.00,144.59 50.50,143.71 51.00,142.83 51.50,141.94 52.00,141.04 52.50,140.14 53.00,139.22 53.50,138.30 54.00,137.37 54.50,136.43 55.00,135.49 55.50,134.53 56.00,133.57 56.50,132.61 57.00,131.63 57.50,130.65 58.00,129.66 58.50,128.66 59.00,127.65 59.50,126.64 60.00,125.62 60.50,124.60 61.00,123.57 61.50,122.53 62.00,121.49 62.50,120.44 63.00,119.38 63.50,118.32 64.00,117.25 64.50,116.18 65.00,115.10 65.50,114.01 66.00,112.92 66.50,111.83 67.00,110.73 67.50,109.63 68.00,108.52 68.50,107.41 69.00,106.29 69.50,105.17 70.00,104.04 70.50,102.92 71.00,101.79 71.50,100.65 72.00,99.51 72.50,98.37 73.00,97.23 73.50,96.09 74.00,94.94 74.50,93.79 75.00,92.64 75.50,91.49 76.00,90.33 76.50,89.18 77.00,88.02 77.50,86.87 78.00,85.71 78.50,84.56 79.00,83.40 79.50,82.24 80.00,81.09 80.50,79.93 81.00,78.78 81.50,77.63 82.00,76.48 82.50,75.33 83.00,74.18 83.50,73.04 84.00,71.89 84.50,70.76 85.00,69.62 85.50,68.49 86.00,67.36 86.50,66.23 87.00,65.11 87.50,63.99 88.00,62.88 88.50,61.77 89.00,60.67 89.50,59.58 90.00,58.48 90.50,57.40 91.00,56.32 91.50,55.25 92.00,54.18 92.50,53.12 93.00,52.07 93.50,51.03 94.00,49.99 94.50,48.96 95.00,47.94 95.50,46.93 96.00,45.93 96.50,44.93 97.00,43.95 97.50,42.97 98.00,42.01 98.50,41.05 99.00,40.11 99.50,39.17 100.00,38.25 100.50,37.34 101.00,36.44 101.50,35.55 102.00,34.67 102.50,33.80 103.00,32.95 103.50,32.11 104.00,31.28 104.50,30.46 105.00,29.66 105.50,28.87 106.00,28.09 106.50,27.33 107.00,26.58 107.50,25.84 108.00,25.12 108.50,24.41 109.00,23.72 109.50,23.04 110.00,22.38 110.50,21.73 111.00,21.10 111.50,20.49 112.00,19.88 112.50,19.30 113.00,18.73 113.50,18.17 114.00,17.64 114.50,17.12 115.00,16.61 115.50,16.12 116.00,15.65 116.50,15.20 117.00,14.76 117.50,14.34 118.00,13.93 118.50,13.54 119.00,13.17 119.50,12.82 120.00,12.48 120.50,12.17 121.00,11.86 121.50,11.58 122.00,11.31 122.50,11.07 123.00,10.83 123.50,10.62 124.00,10.42 124.50,10.25 125.00,10.08 125.50,9.94 126.00,9.81 126.50,9.70 127.00,9.61 127.50,9.54 128.00,9.48 128.50,9.44 129.00,9.41 129.50,9.40 130.00,9.41 130.50,9.43 131.00,9.47 131.50,9.53 132.00,9.59 132.50,9.68 133.00,9.77 133.50,9.87 134.00,9.99 134.50,10.12 135.00,10.26 135.50,10.41 136.00,10.57 136.50,10.74 137.00,10.93 137.50,11.12 138.00,11.33 138.50,11.54 139.00,11.77 139.50,12.00 140.00,12.25 140.50,12.50 141.00,12.77 141.50,13.04 142.00,13.32 142.50,13.62 143.00,13.92 143.50,14.23 144.00,14.55 144.50,14.88 145.00,15.22 145.50,15.57 146.00,15.92 146.50,16.29 147.00,16.66 147.50,17.04 148.00,17.43 148.50,17.83 149.00,18.23 149.50,18.65 150.00,19.07 150.50,19.50 151.00,19.93 151.50,20.38 152.00,20.83 152.50,21.29 153.00,21.76 153.50,22.23 154.00,22.71 154.50,23.20 155.00,23.70 155.50,24.20 156.00,24.71 156.50,25.22 157.00,25.74 157.50,26.27 158.00,26.81 158.50,27.35 159.00,27.90 159.50,28.45 160.00,29.01 160.50,29.58 161.00,30.15 161.50,30.73 162.00,31.31 162.50,31.90 163.00,32.49 163.50,33.09 164.00,33.70 164.50,34.31 165.00,34.92 165.50,35.54 166.00,36.17 166.50,36.80 167.00,37.43 167.50,38.07 168.00,38.72 168.50,39.36 169.00,40.02 169.50,40.68 170.00,41.34 170.50,42.00 171.00,42.67 171.50,43.35 172.00,44.02 172.50,44.71 173.00,45.39 173.50,46.08 174.00,46.77 174.50,47.47 175.00,48.17 175.50,48.87 176.00,49.57 176.50,50.28 177.00,50.99 177.50,51.71 178.00,52.43 178.50,53.15 179.00,53.87 179.50,54.59 180.00,55.32 180.50,56.05 181.00,56.78 181.50,57.52 182.00,58.25 182.50,58.99 183.00,59.73 183.50,60.48 184.00,61.22 184.50,61.97 185.00,62.72 185.50,63.47 186.00,64.22 186.50,64.97 187.00,65.72 187.50,66.48 188.00,67.23 188.50,67.99 189.00,68.75 189.50,69.51 190.00,70.27 190.50,71.03 191.00,71.79 191.50,72.55 192.00,73.32 192.50,74.08 193.00,74.84 193.50,75.61 194.00,76.37 194.50,77.14 195.00,77.90 195.50,78.67 196.00,79.43 196.50,80.20 197.00,80.96 197.50,81.73 198.00,82.49 198.50,83.26 199.00,84.02 199.50,84.78 200.00,85.55 200.50,86.31 201.00,87.07 201.50,87.83 202.00,88.59 202.50,89.35 203.00,90.11 203.50,90.87 204.00,91.62 204.50,92.38 205.00,93.13 205.50,93.89 206.00,94.64 206.50,95.39 207.00,96.14 207.50,96.89 208.00,97.63 208.50,98.38 209.00,99.12 209.50,99.86 210.00,100.60 210.50,101.34 211.00,102.08 211.50,102.81 212.00,103.55 212.50,104.28 213.00,105.01 213.50,105.73 214.00,106.46 214.50,107.18 215.00,107.90 215.50,108.62 216.00,109.34 216.50,110.05 217.00,110.77 217.50,111.48 218.00,112.18 218.50,112.89 219.00,113.59 219.50,114.29 220.00,114.99 220.50,115.68 221.00,116.38 221.50,117.07 222.00,117.75 222.50,118.44 223.00,119.12 223.50,119.80 224.00,120.47 224.50,121.15 225.00,121.82 225.50,122.48 226.00,123.15 226.50,123.81 227.00,124.47 227.50,125.13 228.00,125.78 228.50,126.43 229.00,127.07 229.50,127.72 230.00,128.36 230.50,129.00 231.00,129.63 231.50,130.26 232.00,130.89 232.50,131.51 233.00,132.13 233.50,132.75 234.00,133.37 234.50,133.98 235.00,134.59 235.50,135.19 236.00,135.79 236.50,136.39 237.00,136.98 237.50,137.58 238.00,138.16 238.50,138.75 239.00,139.33 239.50,139.91 240.00,140.48 240.50,141.05 241.00,141.62 241.50,142.18 242.00,142.74 242.50,143.30 243.00,143.85 243.50,144.40 244.00,144.95 244.50,145.49 245.00,146.03 245.50,146.56 246.00,147.10 246.50,147.62 247.00,148.15 247.50,148.67 248.00,149.19 248.50,149.70 249.00,150.21 249.50,150.72 250.00,151.22 250.50,151.72 251.00,152.22 251.50,152.71 252.00,153.20 252.50,153.69 253.00,154.17 253.50,154.65 254.00,155.12 254.50,155.59 255.00,156.06 255.50,156.52 256.00,156.98 256.50,157.44 257.00,157.90 257.50,158.35 258.00,158.79 258.50,159.23 259.00,159.67 259.50,160.11 260.00,160.54 260.50,160.97 261.00,161.40 261.50,161.82 262.00,162.24 262.50,162.65 263.00,163.06 263.50,163.47 264.00,163.87 264.50,164.27 265.00,164.67 265.50,165.07 266.00,165.46 266.50,165.84 267.00,166.23 267.50,166.61 268.00,166.99 268.50,167.36 269.00,167.73 269.50,168.10 270.00,168.46 270.50,168.82 271.00,169.18 271.50,169.53 272.00,169.88 272.50,170.23 273.00,170.58 273.50,170.92 274.00,171.26 274.50,171.59 275.00,171.92 275.50,172.25 276.00,172.58 276.50,172.90 277.00,173.22 277.50,173.53 278.00,173.84 278.50,174.15 279.00,174.46 279.50,174.77 280.00,175.07 280.50,175.36 281.00,175.66 281.50,175.95 282.00,176.24 282.50,176.52 283.00,176.81 283.50,177.09 284.00,177.36 284.50,177.64 285.00,177.91 285.50,178.18 286.00,178.44 286.50,178.71 287.00,178.97 287.50,179.22 288.00,179.48 288.50,179.73 289.00,179.98 289.50,180.23 290.00,180.47 290.50,180.71 291.00,180.95 291.50,181.19 292.00,181.42 292.50,181.65 293.00,181.88 293.50,182.10 294.00,182.33 294.50,182.55 295.00,182.77 295.50,182.98 296.00,183.20 296.50,183.41 297.00,183.61 297.50,183.82 298.00,184.02 298.50,184.23 299.00,184.42 299.50,184.62 300.00,184.82 300.50,185.01 301.00,185.20 301.50,185.39 302.00,185.57 302.50,185.75 303.00,185.93 303.50,186.11 304.00,186.29 304.50,186.46 305.00,186.64 305.50,186.81 306.00,186.98 306.50,187.14 307.00,187.31 307.50,187.47 308.00,187.63 308.50,187.79 309.00,187.94 309.50,188.10 310.00,188.25 310.50,188.40 311.00,188.55 311.50,188.69 312.00,188.84 312.50,188.98 313.00,189.12 313.50,189.26 314.00,189.40 314.50,189.54 315.00,189.67 315.50,189.80 316.00,189.93 316.50,190.06 317.00,190.19 317.50,190.31 318.00,190.44 318.50,190.56 319.00,190.68 319.50,190.80 320.00,190.92 320.50,191.03 321.00,191.15 321.50,191.26 322.00,191.37 322.50,191.48 323.00,191.59 323.50,191.70 324.00,191.80 324.50,191.90 325.00,192.01 325.50,192.11 326.00,192.21 326.50,192.31 327.00,192.40 327.50,192.50 328.00,192.59 328.50,192.68 329.00,192.78 329.50,192.87 330.00,192.96 330.50,193.04 331.00,193.13 331.50,193.22 332.00,193.30 332.50,193.38 333.00,193.46 333.50,193.54 334.00,193.62 334.50,193.70 335.00,193.78 335.50,193.85 336.00,193.93" fill="none" stroke="#d62728" stroke-width="2.0" stroke-linejoin="round" stroke-linecap="butt" stroke-dasharray="5.7,3.1" stroke-dashoffset="4.8"/>
<ellipse cx="124.7" cy="36.4" rx="30.2" ry="12.3" fill="none" stroke="#1b2a38" stroke-width="1.9" stroke-dasharray="5.3,2.4"/>
<ellipse cx="243.9" cy="35.3" rx="30.2" ry="12.5" fill="none" stroke="#1b2a38" stroke-width="1.9" stroke-dasharray="5.3,2.4"/>
</g>
<rect x="47.90" y="0.50" width="285.80" height="207.00" fill="none" stroke="#242424" stroke-width="1.1"/>
<line x1="71.62" y1="207.50" x2="71.62" y2="203.90" stroke="#242424" stroke-width="1.1"/>
<text x="71.62" y="224.00" font-size="16" text-anchor="middle" textLength="29.59" lengthAdjust="spacingAndGlyphs">780</text>
<line x1="119.27" y1="207.50" x2="119.27" y2="203.90" stroke="#242424" stroke-width="1.1"/>
<text x="119.27" y="224.00" font-size="16" text-anchor="middle" textLength="29.59" lengthAdjust="spacingAndGlyphs">800</text>
<line x1="166.92" y1="207.50" x2="166.92" y2="203.90" stroke="#242424" stroke-width="1.1"/>
<text x="166.92" y="224.00" font-size="16" text-anchor="middle" textLength="29.59" lengthAdjust="spacingAndGlyphs">820</text>
<line x1="214.58" y1="207.50" x2="214.58" y2="203.90" stroke="#242424" stroke-width="1.1"/>
<text x="214.58" y="224.00" font-size="16" text-anchor="middle" textLength="29.59" lengthAdjust="spacingAndGlyphs">840</text>
<line x1="262.22" y1="207.50" x2="262.22" y2="203.90" stroke="#242424" stroke-width="1.1"/>
<text x="262.22" y="224.00" font-size="16" text-anchor="middle" textLength="29.59" lengthAdjust="spacingAndGlyphs">860</text>
<line x1="309.88" y1="207.50" x2="309.88" y2="203.90" stroke="#242424" stroke-width="1.1"/>
<text x="309.88" y="224.00" font-size="16" text-anchor="middle" textLength="29.59" lengthAdjust="spacingAndGlyphs">880</text>
<line x1="47.90" y1="198.35" x2="51.50" y2="198.35" stroke="#242424" stroke-width="1.1"/>
<text x="43.90" y="204.75" font-size="16" text-anchor="end" textLength="24.65" lengthAdjust="spacingAndGlyphs">0.0</text>
<line x1="47.90" y1="160.56" x2="51.50" y2="160.56" stroke="#242424" stroke-width="1.1"/>
<text x="43.90" y="166.96" font-size="16" text-anchor="end" textLength="24.65" lengthAdjust="spacingAndGlyphs">0.2</text>
<line x1="47.90" y1="122.77" x2="51.50" y2="122.77" stroke="#242424" stroke-width="1.1"/>
<text x="43.90" y="129.17" font-size="16" text-anchor="end" textLength="24.65" lengthAdjust="spacingAndGlyphs">0.4</text>
<line x1="47.90" y1="84.98" x2="51.50" y2="84.98" stroke="#242424" stroke-width="1.1"/>
<text x="43.90" y="91.38" font-size="16" text-anchor="end" textLength="24.65" lengthAdjust="spacingAndGlyphs">0.6</text>
<line x1="47.90" y1="47.19" x2="51.50" y2="47.19" stroke="#242424" stroke-width="1.1"/>
<text x="43.90" y="53.59" font-size="16" text-anchor="end" textLength="24.65" lengthAdjust="spacingAndGlyphs">0.8</text>
<line x1="47.90" y1="9.40" x2="51.50" y2="9.40" stroke="#242424" stroke-width="1.1"/>
<text x="43.90" y="15.80" font-size="16" text-anchor="end" textLength="24.65" lengthAdjust="spacingAndGlyphs">1.0</text>
<text x="190.70" y="242.60" font-size="16" text-anchor="middle" textLength="132.24" lengthAdjust="spacingAndGlyphs">wavelength [nm]</text>
<text x="12.30" y="103.30" font-size="16" text-anchor="middle" textLength="191.35" lengthAdjust="spacingAndGlyphs" transform="rotate(-90 12.30 103.30)">normalized coincidences</text>
<text x="63.00" y="21.00" font-size="16" font-weight="bold" text-anchor="start" textLength="22.80" lengthAdjust="spacingAndGlyphs">(a)</text>
<text x="49.00" y="40.60" font-size="15.5" text-anchor="start" textLength="42.50" lengthAdjust="spacingAndGlyphs">Signal</text>
<text x="283.30" y="43.20" font-size="15.5" text-anchor="start" textLength="31.30" lengthAdjust="spacingAndGlyphs">Idler</text>
<g clip-path="url(#clipB)">
<polyline points="411.60,196.79 412.10,196.81 412.60,196.82 413.10,196.84 413.60,196.85 414.10,196.87 414.60,196.88 415.10,196.90 415.60,196.91 416.10,196.93 416.60,196.94 417.10,196.96 417.60,196.97 418.10,196.98 418.60,197.00 419.10,197.01 419.60,197.03 420.10,197.04 420.60,197.05 421.10,197.07 421.60,197.08 422.10,197.09 422.60,197.11 423.10,197.12 423.60,197.13 424.10,197.15 424.60,197.16 425.10,197.17 425.60,197.18 426.10,197.20 426.60,197.21 427.10,197.23 427.60,197.24 428.10,197.25 428.60,197.27 429.10,197.28 429.60,197.30 430.10,197.31 430.60,197.33 431.10,197.34 431.60,197.36 432.10,197.37 432.60,197.39 433.10,197.40 433.60,197.42 434.10,197.43 434.60,197.44 435.10,197.45 435.60,197.47 436.10,197.48 436.60,197.49 437.10,197.50 437.60,197.51 438.10,197.52 438.60,197.52 439.10,197.53 439.60,197.53 440.10,197.54 440.60,197.54 441.10,197.54 441.60,197.55 442.10,197.55 442.60,197.55 443.10,197.54 443.60,197.54 444.10,197.54 444.60,197.53 445.10,197.53 445.60,197.53 446.10,197.52 446.60,197.51 447.10,197.51 447.60,197.50 448.10,197.49 448.60,197.48 449.10,197.47 449.60,197.46 450.10,197.45 450.60,197.44 451.10,197.43 451.60,197.42 452.10,197.41 452.60,197.39 453.10,197.38 453.60,197.37 454.10,197.35 454.60,197.34 455.10,197.33 455.60,197.31 456.10,197.30 456.60,197.28 457.10,197.26 457.60,197.25 458.10,197.23 458.60,197.22 459.10,197.20 459.60,197.18 460.10,197.17 460.60,197.15 461.10,197.13 461.60,197.10 462.10,197.08 462.60,197.05 463.10,197.03 463.60,197.00 464.10,196.96 464.60,196.93 465.10,196.90 465.60,196.86 466.10,196.82 466.60,196.78 467.10,196.74 467.60,196.69 468.10,196.65 468.60,196.60 469.10,196.55 469.60,196.50 470.10,196.44 470.60,196.39 471.10,196.33 471.60,196.27 472.10,196.21 472.60,196.15 473.10,196.09 473.60,196.02 474.10,195.95 474.60,195.87 475.10,195.77 475.60,195.66 476.10,195.55 476.60,195.43 477.10,195.30 477.60,195.17 478.10,195.03 478.60,194.89 479.10,194.75 479.60,194.61 480.10,194.46 480.60,194.32 481.10,194.18 481.60,194.03 482.10,193.86 482.60,193.67 483.10,193.47 483.60,193.26 484.10,193.05 484.60,192.85 485.10,192.66 485.60,192.48 486.10,192.33 486.60,192.21 487.10,192.13 487.60,192.08 488.10,192.09 488.60,192.14 489.10,192.20 489.60,192.25 490.10,192.26 490.60,192.03 491.10,191.55 491.60,190.90 492.10,190.18 492.60,189.48 493.10,188.87 493.60,188.35 494.10,187.80 494.60,187.08 495.10,185.79 495.60,183.37 496.10,179.65 496.60,174.79 497.10,168.85 497.60,161.86 498.10,153.82 498.60,144.75 499.10,134.73 499.60,123.91 500.10,112.46 500.60,100.64 501.10,88.76 501.60,77.17 502.10,66.23 502.60,56.33 503.10,47.83 503.60,41.08 504.10,36.33 504.60,33.78 505.10,33.51 505.60,35.18 506.10,38.65 506.60,43.81 507.10,50.48 507.60,58.45 508.10,67.48 508.60,77.31 509.10,87.66 509.60,98.25 510.10,108.85 510.60,119.22 511.10,129.16 511.60,138.49 512.10,147.06 512.60,154.67 513.10,161.03 513.60,165.70 514.10,168.39 514.60,170.69 515.10,172.98 515.60,173.88 516.10,174.45 516.60,174.71 517.10,174.57 517.60,174.06 518.10,173.30 518.60,172.38 519.10,171.37 519.60,170.04 520.10,168.21 520.60,165.97 521.10,163.27 521.60,159.99 522.10,155.93 522.60,151.10 523.10,145.61 523.60,139.54 524.10,132.94 524.60,125.82 525.10,118.23 525.60,110.20 526.10,101.77 526.60,93.00 527.10,83.96 527.60,74.74 528.10,65.45 528.60,56.20 529.10,47.15 529.60,38.46 530.10,30.35 530.60,23.04 531.10,16.84 531.60,12.15 532.10,9.80 532.60,12.40 533.10,17.56 533.60,24.37 534.10,32.35 534.60,41.18 535.10,50.58 535.60,60.32 536.10,70.20 536.60,80.06 537.10,89.76 537.60,99.20 538.10,108.27 538.60,116.92 539.10,125.08 539.60,132.73 540.10,139.84 540.60,146.41 541.10,152.43 541.60,157.92 542.10,162.88 542.60,167.33 543.10,171.29 543.60,174.76 544.10,177.78 544.60,180.35 545.10,182.49 545.60,184.21 546.10,185.50 546.60,186.38 547.10,186.91 547.60,187.25 548.10,187.48 548.60,187.69 549.10,187.91 549.60,188.18 550.10,188.56 550.60,189.15 551.10,189.88 551.60,190.65 552.10,191.39 552.60,192.00 553.10,192.42 553.60,192.80 554.10,193.16 554.60,193.48 555.10,193.73 555.60,193.90 556.10,193.96 556.60,193.90 557.10,193.75 557.60,193.53 558.10,193.28 558.60,193.03 559.10,192.82 559.60,192.68 560.10,192.65 560.60,192.67 561.10,192.71 561.60,192.77 562.10,192.85 562.60,192.95 563.10,193.05 563.60,193.15 564.10,193.26 564.60,193.40 565.10,193.59 565.60,193.80 566.10,194.02 566.60,194.23 567.10,194.43 567.60,194.59 568.10,194.70 568.60,194.77 569.10,194.83 569.60,194.89 570.10,194.93 570.60,194.97 571.10,195.01 571.60,195.04 572.10,195.08 572.60,195.11 573.10,195.14 573.60,195.17 574.10,195.20 574.60,195.23 575.10,195.25 575.60,195.28 576.10,195.31 576.60,195.34 577.10,195.36 577.60,195.39 578.10,195.41 578.60,195.43 579.10,195.46 579.60,195.48 580.10,195.50 580.60,195.52 581.10,195.55 581.60,195.57 582.10,195.59 582.60,195.61 583.10,195.63 583.60,195.65 584.10,195.66 584.60,195.68 585.10,195.70 585.60,195.72 586.10,195.73 586.60,195.75 587.10,195.76 587.60,195.78 588.10,195.80 588.60,195.81 589.10,195.82 589.60,195.84 590.10,195.85 590.60,195.87 591.10,195.88 591.60,195.89 592.10,195.90 592.60,195.91 593.10,195.93 593.60,195.94 594.10,195.95 594.60,195.96 595.10,195.97 595.60,195.98 596.10,195.99 596.60,196.00 597.10,196.01 597.60,196.02 598.10,196.03 598.60,196.04 599.10,196.04 599.60,196.05 600.10,196.06 600.60,196.07 601.10,196.08 601.60,196.09 602.10,196.09 602.60,196.10 603.10,196.11 603.60,196.12 604.10,196.12 604.60,196.13 605.10,196.14 605.60,196.15 606.10,196.15 606.60,196.16 607.10,196.17 607.60,196.18 608.10,196.18 608.60,196.19 609.10,196.20 609.60,196.21 610.10,196.22 610.60,196.22 611.10,196.23 611.60,196.24 612.10,196.25 612.60,196.26 613.10,196.27 613.60,196.28 614.10,196.29 614.60,196.29 615.10,196.30 615.60,196.31 616.10,196.32 616.60,196.34 617.10,196.35 617.60,196.36 618.10,196.37 618.60,196.38 619.10,196.39 619.60,196.40 620.10,196.42 620.60,196.43 621.10,196.45 621.60,196.46 622.10,196.48 622.60,196.50 623.10,196.52 623.60,196.54 624.10,196.56 624.60,196.59 625.10,196.61 625.60,196.63 626.10,196.66 626.60,196.68 627.10,196.71 627.60,196.73 628.10,196.76 628.60,196.79 629.10,196.81 629.60,196.84 630.10,196.86 630.60,196.89 631.10,196.91 631.60,196.93 632.10,196.96 632.60,196.98 633.10,197.00 633.60,197.02 634.10,197.04 634.60,197.06 635.10,197.08 635.60,197.09 636.10,197.11 636.60,197.12 637.10,197.14 637.60,197.15 638.10,197.15 638.60,197.16 639.10,197.17 639.60,197.17 640.10,197.17 640.60,197.17 641.10,197.16 641.60,197.15 642.10,197.14 642.60,197.12 643.10,197.10 643.60,197.08 644.10,197.06 644.60,197.03 645.10,197.00 645.60,196.97 646.10,196.94 646.60,196.91 647.10,196.88 647.60,196.85 648.10,196.81 648.60,196.78 649.10,196.74 649.60,196.71 650.10,196.67 650.60,196.64 651.10,196.61 651.60,196.58 652.10,196.55 652.60,196.52 653.10,196.49 653.60,196.47 654.10,196.45 654.60,196.43 655.10,196.41 655.60,196.40 656.10,196.38 656.60,196.36 657.10,196.35 657.60,196.33 658.10,196.32 658.60,196.30 659.10,196.29 659.60,196.27 660.10,196.26 660.60,196.25 661.10,196.23 661.60,196.22 662.10,196.21 662.60,196.19 663.10,196.18 663.60,196.17 664.10,196.16 664.60,196.15 665.10,196.13 665.60,196.12 666.10,196.11 666.60,196.10 667.10,196.09 667.60,196.09 668.10,196.08 668.60,196.07 669.10,196.06 669.60,196.06 670.10,196.05 670.60,196.04 671.10,196.04" fill="none" stroke="#1f77b4" stroke-width="2.05" stroke-linejoin="round" stroke-linecap="butt"/>
<polyline points="411.60,194.91 412.10,194.64 412.60,194.41 413.10,194.34 413.60,194.38 414.10,194.45 414.60,194.57 415.10,194.71 415.60,194.87 416.10,195.04 416.60,195.23 417.10,195.41 417.60,195.58 418.10,195.73 418.60,195.86 419.10,195.96 419.60,196.02 420.10,196.04 420.60,196.03 421.10,196.00 421.60,195.96 422.10,195.91 422.60,195.85 423.10,195.78 423.60,195.70 424.10,195.62 424.60,195.54 425.10,195.46 425.60,195.37 426.10,195.29 426.60,195.21 427.10,195.14 427.60,195.07 428.10,195.01 428.60,194.97 429.10,194.93 429.60,194.91 430.10,194.91 430.60,194.91 431.10,194.93 431.60,194.96 432.10,194.99 432.60,195.03 433.10,195.08 433.60,195.13 434.10,195.18 434.60,195.24 435.10,195.30 435.60,195.35 436.10,195.41 436.60,195.46 437.10,195.51 437.60,195.55 438.10,195.59 438.60,195.62 439.10,195.64 439.60,195.66 440.10,195.66 440.60,195.66 441.10,195.66 441.60,195.65 442.10,195.64 442.60,195.63 443.10,195.62 443.60,195.60 444.10,195.59 444.60,195.57 445.10,195.55 445.60,195.53 446.10,195.50 446.60,195.48 447.10,195.45 447.60,195.43 448.10,195.40 448.60,195.37 449.10,195.34 449.60,195.31 450.10,195.28 450.60,195.23 451.10,195.15 451.60,195.06 452.10,194.96 452.60,194.85 453.10,194.74 453.60,194.64 454.10,194.54 454.60,194.46 455.10,194.39 455.60,194.35 456.10,194.34 456.60,194.35 457.10,194.38 457.60,194.42 458.10,194.47 458.60,194.53 459.10,194.60 459.60,194.67 460.10,194.75 460.60,194.83 461.10,194.91 461.60,194.98 462.10,195.05 462.60,195.12 463.10,195.18 463.60,195.22 464.10,195.26 464.60,195.28 465.10,195.28 465.60,195.26 466.10,195.20 466.60,195.12 467.10,195.01 467.60,194.89 468.10,194.74 468.60,194.59 469.10,194.43 469.60,194.26 470.10,194.09 470.60,193.93 471.10,193.77 471.60,193.62 472.10,193.49 472.60,193.38 473.10,193.29 473.60,193.21 474.10,193.14 474.60,193.06 475.10,192.98 475.60,192.88 476.10,192.76 476.60,192.61 477.10,192.38 477.60,192.04 478.10,191.58 478.60,190.99 479.10,189.73 479.60,188.05 480.10,186.44 480.60,184.16 481.10,180.11 481.60,174.03 482.10,166.08 482.60,156.33 483.10,144.89 483.60,131.94 484.10,117.82 484.60,103.06 485.10,88.31 485.60,74.33 486.10,61.94 486.60,51.94 487.10,44.99 487.60,41.58 488.10,41.64 488.60,43.85 489.10,47.98 489.60,53.88 490.10,61.33 490.60,70.05 491.10,79.76 491.60,90.13 492.10,100.85 492.60,111.60 493.10,122.08 493.60,131.98 494.10,140.93 494.60,148.36 495.10,153.57 495.60,156.31 496.10,157.34 496.60,157.64 497.10,157.79 497.60,158.14 498.10,158.71 498.60,159.46 499.10,160.35 499.60,161.31 500.10,162.31 500.60,163.27 501.10,164.17 501.60,165.06 502.10,166.01 502.60,167.01 503.10,168.04 503.60,169.09 504.10,170.17 504.60,171.26 505.10,172.35 505.60,173.44 506.10,174.56 506.60,175.69 507.10,176.84 507.60,178.04 508.10,179.27 508.60,180.54 509.10,181.90 509.60,183.51 510.10,185.28 510.60,187.06 511.10,188.70 511.60,190.02 512.10,190.90 512.60,191.59 513.10,192.20 513.60,192.69 514.10,192.97 514.60,193.01 515.10,192.88 515.60,192.64 516.10,192.34 516.60,192.02 517.10,191.71 517.60,191.47 518.10,191.27 518.60,191.09 519.10,190.92 519.60,190.75 520.10,190.57 520.60,190.39 521.10,190.19 521.60,189.96 522.10,189.71 522.60,189.45 523.10,189.16 523.60,188.86 524.10,188.53 524.60,188.18 525.10,187.80 525.60,187.39 526.10,186.93 526.60,186.44 527.10,185.89 527.60,185.29 528.10,184.64 528.60,183.93 529.10,183.17 529.60,182.31 530.10,181.27 530.60,180.08 531.10,178.78 531.60,177.41 532.10,176.02 532.60,174.65 533.10,173.24 533.60,171.77 534.10,170.25 534.60,168.72 535.10,167.19 535.60,165.69 536.10,164.22 536.60,162.76 537.10,161.31 537.60,159.85 538.10,158.37 538.60,156.87 539.10,155.33 539.60,153.79 540.10,152.19 540.60,150.48 541.10,148.54 541.60,145.83 542.10,142.75 542.60,139.97 543.10,137.69 543.60,134.56 544.10,130.10 544.60,124.40 545.10,117.70 545.60,110.26 546.10,102.30 546.60,93.99 547.10,85.49 547.60,76.91 548.10,68.39 548.60,60.04 549.10,51.98 549.60,44.32 550.10,37.19 550.60,30.69 551.10,24.92 551.60,19.98 552.10,15.94 552.60,12.89 553.10,10.85 553.60,9.88 554.10,9.81 554.60,10.04 555.10,10.75 555.60,12.16 556.10,14.46 556.60,17.81 557.10,22.34 557.60,28.11 558.10,35.15 558.60,43.43 559.10,52.87 559.60,63.30 560.10,74.55 560.60,86.36 561.10,98.48 561.60,110.61 562.10,122.48 562.60,133.82 563.10,144.41 563.60,154.08 564.10,162.69 564.60,170.18 565.10,176.52 565.60,181.74 566.10,185.84 566.60,188.81 567.10,190.65 567.60,191.70 568.10,192.41 568.60,193.00 569.10,193.50 569.60,193.95 570.10,194.40 570.60,194.81 571.10,195.16 571.60,195.39 572.10,195.48 572.60,195.52 573.10,195.55 573.60,195.59 574.10,195.62 574.60,195.65 575.10,195.68 575.60,195.71 576.10,195.74 576.60,195.76 577.10,195.79 577.60,195.81 578.10,195.83 578.60,195.85 579.10,195.87 579.60,195.89 580.10,195.90 580.60,195.92 581.10,195.93 581.60,195.94 582.10,195.96 582.60,195.97 583.10,195.98 583.60,195.99 584.10,196.00 584.60,196.00 585.10,196.01 585.60,196.02 586.10,196.02 586.60,196.03 587.10,196.03 587.60,196.03 588.10,196.03 588.60,196.04 589.10,196.04 589.60,196.04 590.10,196.04 590.60,196.04 591.10,196.03 591.60,196.03 592.10,196.02 592.60,196.01 593.10,196.00 593.60,195.99 594.10,195.98 594.60,195.96 595.10,195.95 595.60,195.93 596.10,195.91 596.60,195.89 597.10,195.87 597.60,195.86 598.10,195.83 598.60,195.81 599.10,195.79 599.60,195.77 600.10,195.75 600.60,195.73 601.10,195.71 601.60,195.69 602.10,195.67 602.60,195.65 603.10,195.63 603.60,195.61 604.10,195.59 604.60,195.57 605.10,195.56 605.60,195.54 606.10,195.53 606.60,195.52 607.10,195.50 607.60,195.49 608.10,195.49 608.60,195.48 609.10,195.48 609.60,195.47 610.10,195.47 610.60,195.47 611.10,195.48 611.60,195.48 612.10,195.49 612.60,195.50 613.10,195.51 613.60,195.52 614.10,195.53 614.60,195.55 615.10,195.56 615.60,195.58 616.10,195.60 616.60,195.62 617.10,195.64 617.60,195.66 618.10,195.68 618.60,195.70 619.10,195.72 619.60,195.74 620.10,195.76 620.60,195.78 621.10,195.80 621.60,195.82 622.10,195.84 622.60,195.86 623.10,195.88 623.60,195.90 624.10,195.92 624.60,195.94 625.10,195.95 625.60,195.97 626.10,195.98 626.60,195.99 627.10,196.01 627.60,196.02 628.10,196.02 628.60,196.03 629.10,196.03 629.60,196.04 630.10,196.04 630.60,196.04 631.10,196.03 631.60,196.03 632.10,196.02 632.60,196.01 633.10,196.00 633.60,195.99 634.10,195.98 634.60,195.96 635.10,195.95 635.60,195.93 636.10,195.91 636.60,195.89 637.10,195.87 637.60,195.86 638.10,195.83 638.60,195.81 639.10,195.79 639.60,195.77 640.10,195.75 640.60,195.73 641.10,195.71 641.60,195.69 642.10,195.67 642.60,195.65 643.10,195.63 643.60,195.61 644.10,195.59 644.60,195.57 645.10,195.56 645.60,195.54 646.10,195.53 646.60,195.52 647.10,195.50 647.60,195.49 648.10,195.49 648.60,195.48 649.10,195.48 649.60,195.47 650.10,195.47 650.60,195.47 651.10,195.48 651.60,195.48 652.10,195.48 652.60,195.49 653.10,195.50 653.60,195.50 654.10,195.51 654.60,195.52 655.10,195.53 655.60,195.55 656.10,195.56 656.60,195.57 657.10,195.59 657.60,195.61 658.10,195.62 658.60,195.64 659.10,195.66 659.60,195.68 660.10,195.70 660.60,195.73 661.10,195.75 661.60,195.77 662.10,195.80 662.60,195.83 663.10,195.85 663.60,195.88 664.10,195.91 664.60,195.94 665.10,195.97 665.60,196.00 666.10,196.04 666.60,196.07 667.10,196.10 667.60,196.14 668.10,196.18 668.60,196.21 669.10,196.25 669.60,196.29 670.10,196.33 670.60,196.37 671.10,196.41" fill="none" stroke="#ff7f0e" stroke-width="2.05" stroke-linejoin="round" stroke-linecap="butt"/>
<polyline points="411.60,196.23 412.10,196.24 412.60,196.26 413.10,196.27 413.60,196.28 414.10,196.29 414.60,196.30 415.10,196.31 415.60,196.32 416.10,196.33 416.60,196.34 417.10,196.35 417.60,196.36 418.10,196.36 418.60,196.37 419.10,196.38 419.60,196.38 420.10,196.39 420.60,196.39 421.10,196.39 421.60,196.40 422.10,196.40 422.60,196.40 423.10,196.41 423.60,196.41 424.10,196.41 424.60,196.41 425.10,196.41 425.60,196.41 426.10,196.41 426.60,196.41 427.10,196.41 427.60,196.41 428.10,196.41 428.60,196.41 429.10,196.41 429.60,196.41 430.10,196.41 430.60,196.41 431.10,196.41 431.60,196.40 432.10,196.39 432.60,196.37 433.10,196.36 433.60,196.34 434.10,196.31 434.60,196.29 435.10,196.26 435.60,196.24 436.10,196.21 436.60,196.17 437.10,196.14 437.60,196.11 438.10,196.07 438.60,196.03 439.10,196.00 439.60,195.96 440.10,195.92 440.60,195.88 441.10,195.84 441.60,195.80 442.10,195.76 442.60,195.72 443.10,195.68 443.60,195.64 444.10,195.60 444.60,195.55 445.10,195.51 445.60,195.46 446.10,195.40 446.60,195.35 447.10,195.29 447.60,195.23 448.10,195.16 448.60,195.09 449.10,195.01 449.60,194.92 450.10,194.83 450.60,194.73 451.10,194.61 451.60,194.47 452.10,194.32 452.60,194.14 453.10,193.95 453.60,193.73 454.10,193.34 454.60,192.81 455.10,192.28 455.60,191.87 456.10,191.70 456.60,191.76 457.10,191.90 457.60,192.09 458.10,192.28 458.60,192.43 459.10,192.54 459.60,192.64 460.10,192.74 460.60,192.83 461.10,192.91 461.60,192.97 462.10,193.01 462.60,193.02 463.10,192.89 463.60,192.59 464.10,192.16 464.60,191.63 465.10,190.99 465.60,189.78 466.10,188.08 466.60,185.90 467.10,182.84 467.60,180.98 468.10,179.11 468.60,173.87 469.10,165.69 469.60,155.24 470.10,142.68 470.60,128.17 471.10,112.00 471.60,94.66 472.10,76.83 472.60,59.38 473.10,43.24 473.60,29.41 474.10,18.78 474.60,12.09 475.10,9.80 475.60,11.95 476.10,18.26 476.60,28.30 477.10,41.43 477.60,56.82 478.10,73.60 478.60,90.89 479.10,107.88 479.60,123.91 480.10,138.48 480.60,151.29 481.10,162.16 481.60,171.03 482.10,177.70 482.60,181.49 483.10,182.68 483.60,182.96 484.10,183.11 484.60,183.27 485.10,184.14 485.60,185.70 486.10,187.49 486.60,189.04 487.10,189.94 487.60,190.51 488.10,191.03 488.60,191.48 489.10,191.82 489.60,192.02 490.10,192.08 490.60,192.02 491.10,191.92 491.60,191.78 492.10,191.65 492.60,191.55 493.10,191.51 493.60,191.62 494.10,191.89 494.60,192.28 495.10,192.73 495.60,193.20 496.10,193.63 496.60,193.98 497.10,194.18 497.60,194.33 498.10,194.47 498.60,194.61 499.10,194.74 499.60,194.85 500.10,194.96 500.60,195.05 501.10,195.13 501.60,195.20 502.10,195.24 502.60,195.27 503.10,195.28 503.60,195.23 504.10,195.11 504.60,194.96 505.10,194.82 505.60,194.73 506.10,194.70 506.60,194.68 507.10,194.66 507.60,194.65 508.10,194.64 508.60,194.63 509.10,194.62 509.60,194.61 510.10,194.60 510.60,194.59 511.10,194.57 511.60,194.55 512.10,194.52 512.60,194.44 513.10,194.28 513.60,194.07 514.10,193.83 514.60,193.58 515.10,193.32 515.60,193.08 516.10,192.88 516.60,192.73 517.10,192.65 517.60,192.71 518.10,193.04 518.60,193.59 519.10,194.28 519.60,195.01 520.10,195.72 520.60,196.30 521.10,196.69 521.60,196.79 522.10,196.75 522.60,196.66 523.10,196.52 523.60,196.35 524.10,196.15 524.60,195.93 525.10,195.69 525.60,195.44 526.10,195.20 526.60,194.97 527.10,194.75 527.60,194.55 528.10,194.38 528.60,194.26 529.10,194.18 529.60,194.14 530.10,194.12 530.60,194.10 531.10,194.08 531.60,194.07 532.10,194.05 532.60,194.03 533.10,194.02 533.60,194.01 534.10,194.00 534.60,193.99 535.10,193.98 535.60,193.97 536.10,193.97 536.60,193.97 537.10,193.96 537.60,193.97 538.10,194.00 538.60,194.04 539.10,194.10 539.60,194.18 540.10,194.26 540.60,194.36 541.10,194.47 541.60,194.58 542.10,194.70 542.60,194.82 543.10,194.94 543.60,195.07 544.10,195.19 544.60,195.30 545.10,195.41 545.60,195.51 546.10,195.60 546.60,195.68 547.10,195.75 547.60,195.80 548.10,195.83 548.60,195.85 549.10,195.83 549.60,195.75 550.10,195.61 550.60,195.43 551.10,195.21 551.60,194.96 552.10,194.68 552.60,194.39 553.10,194.09 553.60,193.70 554.10,193.19 554.60,192.61 555.10,191.97 555.60,191.30 556.10,190.63 556.60,189.96 557.10,189.26 557.60,188.51 558.10,187.65 558.60,186.65 559.10,185.39 559.60,183.32 560.10,180.67 560.60,177.86 561.10,175.25 561.60,173.08 562.10,171.27 562.60,168.76 563.10,165.14 563.60,160.62 564.10,155.39 564.60,149.58 565.10,143.29 565.60,136.59 566.10,129.54 566.60,122.22 567.10,114.72 567.60,107.14 568.10,99.58 568.60,92.15 569.10,84.98 569.60,78.20 570.10,71.91 570.60,66.25 571.10,61.33 571.60,57.24 572.10,54.06 572.60,51.87 573.10,50.71 573.60,50.52 574.10,50.63 574.60,51.04 575.10,51.95 575.60,53.54 576.10,55.95 576.60,59.30 577.10,63.69 577.60,69.15 578.10,75.70 578.60,83.26 579.10,91.72 579.60,100.92 580.10,110.64 580.60,120.65 581.10,130.68 581.60,140.47 582.10,149.79 582.60,158.42 583.10,166.19 583.60,173.00 584.10,178.75 584.60,183.39 585.10,187.24 585.60,189.99 586.10,191.64 586.60,192.62 587.10,193.32 587.60,193.89 588.10,194.36 588.60,194.71 589.10,194.96 589.60,195.08 590.10,195.13 590.60,195.16 591.10,195.20 591.60,195.23 592.10,195.26 592.60,195.29 593.10,195.32 593.60,195.34 594.10,195.36 594.60,195.38 595.10,195.40 595.60,195.41 596.10,195.43 596.60,195.44 597.10,195.45 597.60,195.46 598.10,195.46 598.60,195.47 599.10,195.47 599.60,195.47 600.10,195.47 600.60,195.47 601.10,195.47 601.60,195.46 602.10,195.46 602.60,195.45 603.10,195.44 603.60,195.42 604.10,195.41 604.60,195.40 605.10,195.38 605.60,195.36 606.10,195.35 606.60,195.33 607.10,195.31 607.60,195.29 608.10,195.27 608.60,195.25 609.10,195.23 609.60,195.21 610.10,195.19 610.60,195.16 611.10,195.14 611.60,195.12 612.10,195.10 612.60,195.08 613.10,195.06 613.60,195.04 614.10,195.03 614.60,195.01 615.10,194.99 615.60,194.98 616.10,194.96 616.60,194.95 617.10,194.94 617.60,194.93 618.10,194.92 618.60,194.91 619.10,194.91 619.60,194.91 620.10,194.91 620.60,194.91 621.10,194.92 621.60,194.93 622.10,194.94 622.60,194.96 623.10,194.98 623.60,195.00 624.10,195.03 624.60,195.06 625.10,195.09 625.60,195.12 626.10,195.16 626.60,195.20 627.10,195.23 627.60,195.27 628.10,195.31 628.60,195.35 629.10,195.40 629.60,195.44 630.10,195.48 630.60,195.52 631.10,195.57 631.60,195.61 632.10,195.65 632.60,195.69 633.10,195.73 633.60,195.76 634.10,195.80 634.60,195.84 635.10,195.87 635.60,195.90 636.10,195.93 636.60,195.95 637.10,195.97 637.60,195.99 638.10,196.01 638.60,196.02 639.10,196.03 639.60,196.04 640.10,196.04 640.60,196.04 641.10,196.03 641.60,196.03 642.10,196.02 642.60,196.01 643.10,196.00 643.60,195.99 644.10,195.98 644.60,195.96 645.10,195.95 645.60,195.93 646.10,195.91 646.60,195.89 647.10,195.87 647.60,195.86 648.10,195.83 648.60,195.81 649.10,195.79 649.60,195.77 650.10,195.75 650.60,195.73 651.10,195.71 651.60,195.69 652.10,195.67 652.60,195.65 653.10,195.63 653.60,195.61 654.10,195.59 654.60,195.57 655.10,195.56 655.60,195.54 656.10,195.53 656.60,195.52 657.10,195.50 657.60,195.49 658.10,195.49 658.60,195.48 659.10,195.48 659.60,195.47 660.10,195.47 660.60,195.47 661.10,195.48 661.60,195.49 662.10,195.50 662.60,195.51 663.10,195.53 663.60,195.55 664.10,195.57 664.60,195.59 665.10,195.62 665.60,195.64 666.10,195.67 666.60,195.70 667.10,195.74 667.60,195.77 668.10,195.80 668.60,195.84 669.10,195.88 669.60,195.91 670.10,195.95 670.60,195.99 671.10,196.03" fill="none" stroke="#2ca02c" stroke-width="2.05" stroke-linejoin="round" stroke-linecap="butt"/>
<polyline points="411.60,197.45 412.10,197.35 412.60,197.26 413.10,197.16 413.60,197.06 414.10,196.96 414.60,196.86 415.10,196.77 415.60,196.67 416.10,196.57 416.60,196.47 417.10,196.37 417.60,196.27 418.10,196.16 418.60,196.05 419.10,195.92 419.60,195.78 420.10,195.65 420.60,195.51 421.10,195.38 421.60,195.26 422.10,195.15 422.60,195.05 423.10,194.98 423.60,194.93 424.10,194.91 424.60,194.91 425.10,194.91 425.60,194.91 426.10,194.91 426.60,194.91 427.10,194.91 427.60,194.91 428.10,194.91 428.60,194.91 429.10,194.91 429.60,194.91 430.10,194.91 430.60,194.91 431.10,194.89 431.60,194.84 432.10,194.77 432.60,194.68 433.10,194.56 433.60,194.43 434.10,194.28 434.60,194.13 435.10,193.97 435.60,193.81 436.10,193.61 436.60,193.31 437.10,192.96 437.60,192.59 438.10,192.23 438.60,191.94 439.10,191.75 439.60,191.71 440.10,191.88 440.60,192.21 441.10,192.59 441.60,192.89 442.10,193.02 442.60,192.69 443.10,191.89 443.60,190.95 444.10,190.15 444.60,189.82 445.10,189.89 445.60,190.07 446.10,190.28 446.60,190.47 447.10,190.57 447.60,190.51 448.10,190.26 448.60,189.83 449.10,189.12 449.60,187.70 450.10,184.54 450.60,179.82 451.10,173.98 451.60,166.39 452.10,157.01 452.60,145.89 453.10,133.10 453.60,118.83 454.10,103.39 454.60,87.23 455.10,70.96 455.60,55.25 456.10,40.85 456.60,28.50 457.10,18.88 457.60,12.55 458.10,9.88 458.60,11.03 459.10,15.93 459.60,24.29 460.10,35.63 460.60,49.29 461.10,64.57 461.60,80.70 462.10,96.98 462.60,112.77 463.10,127.55 463.60,140.96 464.10,152.77 464.60,162.85 465.10,171.20 465.60,177.74 466.10,182.05 466.60,184.89 467.10,189.81 467.60,192.84 468.10,193.59 468.60,193.56 469.10,193.39 469.60,193.20 470.10,193.04 470.60,192.94 471.10,192.84 471.60,192.74 472.10,192.64 472.60,192.56 473.10,192.50 473.60,192.47 474.10,192.46 474.60,192.49 475.10,192.57 475.60,192.67 476.10,192.78 476.60,192.89 477.10,192.97 477.60,193.02 478.10,193.02 478.60,193.01 479.10,193.00 479.60,192.99 480.10,192.97 480.60,192.95 481.10,192.92 481.60,192.89 482.10,192.86 482.60,192.82 483.10,192.79 483.60,192.75 484.10,192.71 484.60,192.68 485.10,192.64 485.60,192.59 486.10,192.53 486.60,192.45 487.10,192.37 487.60,192.29 488.10,192.20 488.60,192.11 489.10,192.02 489.60,191.94 490.10,191.86 490.60,191.80 491.10,191.75 491.60,191.72 492.10,191.70 492.60,191.72 493.10,191.78 493.60,191.89 494.10,192.03 494.60,192.21 495.10,192.42 495.60,192.65 496.10,192.90 496.60,193.16 497.10,193.42 497.60,193.70 498.10,193.97 498.60,194.23 499.10,194.48 499.60,194.71 500.10,194.92 500.60,195.11 501.10,195.26 501.60,195.37 502.10,195.45 502.60,195.47 503.10,195.47 503.60,195.45 504.10,195.41 504.60,195.37 505.10,195.32 505.60,195.26 506.10,195.19 506.60,195.12 507.10,195.05 507.60,194.97 508.10,194.89 508.60,194.78 509.10,194.64 509.60,194.47 510.10,194.28 510.60,194.07 511.10,193.86 511.60,193.66 512.10,193.46 512.60,193.29 513.10,193.14 513.60,193.02 514.10,192.92 514.60,192.83 515.10,192.73 515.60,192.64 516.10,192.55 516.60,192.47 517.10,192.40 517.60,192.35 518.10,192.30 518.60,192.28 519.10,192.27 519.60,192.29 520.10,192.35 520.60,192.45 521.10,192.57 521.60,192.71 522.10,192.88 522.60,193.05 523.10,193.23 523.60,193.41 524.10,193.58 524.60,193.74 525.10,193.88 525.60,194.00 526.10,194.09 526.60,194.14 527.10,194.15 527.60,194.13 528.10,194.09 528.60,194.02 529.10,193.93 529.60,193.82 530.10,193.71 530.60,193.58 531.10,193.45 531.60,193.32 532.10,193.19 532.60,193.07 533.10,192.95 533.60,192.85 534.10,192.77 534.60,192.70 535.10,192.66 535.60,192.65 536.10,192.68 536.60,192.79 537.10,192.95 537.60,193.16 538.10,193.40 538.60,193.67 539.10,193.95 539.60,194.24 540.10,194.52 540.60,194.78 541.10,195.00 541.60,195.19 542.10,195.34 542.60,195.47 543.10,195.61 543.60,195.74 544.10,195.87 544.60,196.00 545.10,196.13 545.60,196.24 546.10,196.35 546.60,196.46 547.10,196.55 547.60,196.62 548.10,196.69 548.60,196.74 549.10,196.77 549.60,196.79 550.10,196.79 550.60,196.76 551.10,196.71 551.60,196.64 552.10,196.55 552.60,196.44 553.10,196.33 553.60,196.20 554.10,196.07 554.60,195.93 555.10,195.79 555.60,195.66 556.10,195.52 556.60,195.40 557.10,195.28 557.60,195.17 558.10,195.08 558.60,195.00 559.10,194.95 559.60,194.92 560.10,194.91 560.60,194.92 561.10,194.95 561.60,194.98 562.10,195.04 562.60,195.10 563.10,195.17 563.60,195.24 564.10,195.32 564.60,195.40 565.10,195.49 565.60,195.57 566.10,195.66 566.60,195.73 567.10,195.81 567.60,195.87 568.10,195.93 568.60,195.98 569.10,196.01 569.60,196.03 570.10,196.04 570.60,196.03 571.10,196.02 571.60,195.99 572.10,195.96 572.60,195.92 573.10,195.87 573.60,195.82 574.10,195.75 574.60,195.69 575.10,195.61 575.60,195.53 576.10,195.45 576.60,195.36 577.10,195.27 577.60,195.17 578.10,195.07 578.60,194.97 579.10,194.87 579.60,194.76 580.10,194.65 580.60,194.54 581.10,194.43 581.60,194.32 582.10,194.21 582.60,194.10 583.10,193.99 583.60,193.87 584.10,193.76 584.60,193.63 585.10,193.50 585.60,193.36 586.10,193.21 586.60,193.06 587.10,192.89 587.60,192.72 588.10,192.54 588.60,192.35 589.10,192.15 589.60,191.93 590.10,191.67 590.60,191.30 591.10,190.88 591.60,190.46 592.10,190.10 592.60,189.83 593.10,189.64 593.60,189.27 594.10,188.46 594.60,187.11 595.10,185.29 595.60,183.10 596.10,180.61 596.60,177.88 597.10,174.91 597.60,171.76 598.10,168.46 598.60,165.05 599.10,161.59 599.60,158.15 600.10,154.79 600.60,151.58 601.10,148.59 601.60,145.90 602.10,143.57 602.60,141.67 603.10,140.24 603.60,139.32 604.10,138.93 604.60,139.10 605.10,139.81 605.60,141.04 606.10,142.76 606.60,144.92 607.10,147.47 607.60,150.35 608.10,153.48 608.60,156.79 609.10,160.21 609.60,163.67 610.10,167.10 610.60,170.46 611.10,173.68 611.60,176.72 612.10,179.56 612.60,182.16 613.10,184.50 613.60,186.54 614.10,188.23 614.60,189.47 615.10,190.21 615.60,190.57 616.10,190.74 616.60,191.30 617.10,192.15 617.60,192.87 618.10,193.16 618.60,193.38 619.10,193.59 619.60,193.77 620.10,193.95 620.60,194.11 621.10,194.26 621.60,194.39 622.10,194.51 622.60,194.62 623.10,194.72 623.60,194.80 624.10,194.88 624.60,194.94 625.10,195.00 625.60,195.04 626.10,195.08 626.60,195.11 627.10,195.13 627.60,195.16 628.10,195.18 628.60,195.20 629.10,195.23 629.60,195.25 630.10,195.27 630.60,195.29 631.10,195.31 631.60,195.32 632.10,195.34 632.60,195.36 633.10,195.37 633.60,195.38 634.10,195.40 634.60,195.41 635.10,195.42 635.60,195.43 636.10,195.44 636.60,195.45 637.10,195.45 637.60,195.46 638.10,195.46 638.60,195.47 639.10,195.47 639.60,195.47 640.10,195.47 640.60,195.47 641.10,195.46 641.60,195.45 642.10,195.44 642.60,195.43 643.10,195.41 643.60,195.39 644.10,195.37 644.60,195.35 645.10,195.32 645.60,195.29 646.10,195.27 646.60,195.24 647.10,195.21 647.60,195.18 648.10,195.16 648.60,195.13 649.10,195.10 649.60,195.07 650.10,195.05 650.60,195.02 651.10,195.00 651.60,194.98 652.10,194.96 652.60,194.95 653.10,194.93 653.60,194.92 654.10,194.91 654.60,194.91 655.10,194.91 655.60,194.91 656.10,194.91 656.60,194.92 657.10,194.93 657.60,194.94 658.10,194.96 658.60,194.97 659.10,194.99 659.60,195.01 660.10,195.03 660.60,195.06 661.10,195.09 661.60,195.12 662.10,195.15 662.60,195.18 663.10,195.22 663.60,195.26 664.10,195.30 664.60,195.34 665.10,195.38 665.60,195.42 666.10,195.47 666.60,195.52 667.10,195.57 667.60,195.62 668.10,195.67 668.60,195.73 669.10,195.79 669.60,195.84 670.10,195.90 670.60,195.96 671.10,196.03" fill="none" stroke="#d62728" stroke-width="2.05" stroke-linejoin="round" stroke-linecap="butt"/>
<polyline points="411.60,188.36 412.10,187.75 412.60,187.42 413.10,187.42 413.60,187.92 414.10,188.56 414.60,188.88 415.10,188.45 415.60,187.37 416.10,185.96 416.60,184.53 417.10,183.41 417.60,182.47 418.10,181.51 418.60,180.71 419.10,180.25 419.60,180.50 420.10,182.02 420.60,184.24 421.10,186.53 421.60,189.89 422.10,192.36 422.60,192.12 423.10,191.09 423.60,189.94 424.10,189.28 424.60,189.59 425.10,190.56 425.60,191.52 426.10,192.70 426.60,193.91 427.10,194.74 427.60,194.82 428.10,193.98 428.60,192.59 429.10,191.10 429.60,189.75 430.10,188.18 430.60,186.67 431.10,185.61 431.60,185.06 432.10,184.60 432.60,184.28 433.10,184.16 433.60,184.74 434.10,186.07 434.60,187.57 435.10,188.67 435.60,189.61 436.10,190.46 436.60,191.03 437.10,190.62 437.60,186.78 438.10,183.33 438.60,181.53 439.10,175.91 439.60,166.82 440.10,154.92 440.60,140.33 441.10,123.25 441.60,104.18 442.10,83.97 442.60,63.78 443.10,44.99 443.60,29.06 444.10,17.34 444.60,10.88 445.10,10.17 445.60,14.26 446.10,22.60 446.60,34.61 447.10,49.48 447.60,66.26 448.10,83.97 448.60,101.69 449.10,118.64 449.60,134.20 450.10,147.96 450.60,159.72 451.10,169.44 451.60,177.23 452.10,183.25 452.60,187.65 453.10,190.50 453.60,192.70 454.10,194.79 454.60,196.28 455.10,197.05 455.60,197.55 456.10,197.87 456.60,198.05 457.10,197.86 457.60,197.02 458.10,195.96 458.60,195.04 459.10,194.39 459.60,193.73 460.10,193.13 460.60,192.68 461.10,192.46 461.60,192.61 462.10,193.10 462.60,193.75 463.10,194.34 463.60,194.93 464.10,195.58 464.60,196.08 465.10,196.22 465.60,196.08 466.10,195.77 466.60,195.33 467.10,194.77 467.60,193.56 468.10,191.72 468.60,189.66 469.10,187.74 469.60,185.69 470.10,183.53 470.60,181.38 471.10,179.39 471.60,177.64 472.10,175.92 472.60,174.31 473.10,173.00 473.60,172.16 474.10,171.54 474.60,171.02 475.10,170.68 475.60,170.62 476.10,171.38 476.60,172.69 477.10,173.84 477.60,174.41 478.10,174.82 478.60,175.23 479.10,175.84 479.60,177.17 480.10,178.78 480.60,179.89 481.10,179.94 481.60,179.55 482.10,178.91 482.60,178.13 483.10,177.30 483.60,176.55 484.10,175.96 484.60,175.64 485.10,175.43 485.60,175.24 486.10,175.06 486.60,174.91 487.10,174.78 487.60,174.67 488.10,174.60 488.60,174.56 489.10,174.58 489.60,174.81 490.10,174.90 490.60,174.17 491.10,172.79 491.60,171.29 492.10,170.16 492.60,169.56 493.10,169.02 493.60,168.55 494.10,168.20 494.60,167.99 495.10,167.97 495.60,168.12 496.10,168.41 496.60,168.80 497.10,169.26 497.60,169.76 498.10,170.26 498.60,170.72 499.10,171.12 499.60,171.53 500.10,171.95 500.60,172.37 501.10,172.78 501.60,173.15 502.10,173.48 502.60,173.83 503.10,174.18 503.60,174.48 504.10,174.68 504.60,174.72 505.10,174.31 505.60,173.40 506.10,172.13 506.60,170.61 507.10,168.97 507.60,167.33 508.10,165.83 508.60,164.58 509.10,163.54 509.60,162.45 510.10,161.38 510.60,160.39 511.10,159.57 511.60,158.97 512.10,158.68 512.60,158.51 513.10,158.38 513.60,158.26 514.10,158.17 514.60,158.09 515.10,158.01 515.60,157.94 516.10,157.87 516.60,157.79 517.10,157.71 517.60,157.63 518.10,157.56 518.60,157.49 519.10,157.43 519.60,157.36 520.10,157.28 520.60,157.20 521.10,157.10 521.60,156.99 522.10,156.83 522.60,156.61 523.10,156.35 523.60,156.07 524.10,155.78 524.60,155.51 525.10,155.28 525.60,155.09 526.10,154.98 526.60,154.95 527.10,154.96 527.60,154.99 528.10,155.03 528.60,155.09 529.10,155.16 529.60,155.24 530.10,155.32 530.60,155.47 531.10,155.73 531.60,156.06 532.10,156.44 532.60,156.83 533.10,157.21 533.60,157.55 534.10,157.82 534.60,158.02 535.10,158.19 535.60,158.34 536.10,158.49 536.60,158.65 537.10,158.85 537.60,159.10 538.10,159.43 538.60,159.98 539.10,160.73 539.60,161.62 540.10,162.60 540.60,163.60 541.10,164.67 541.60,165.93 542.10,167.32 542.60,168.77 543.10,170.24 543.60,171.65 544.10,172.95 544.60,174.13 545.10,175.38 545.60,176.63 546.10,177.78 546.60,178.74 547.10,179.41 547.60,179.73 548.10,179.93 548.60,180.02 549.10,179.45 549.60,178.08 550.10,176.41 550.60,174.93 551.10,173.72 551.60,172.54 552.10,171.38 552.60,170.21 553.10,169.02 553.60,167.59 554.10,166.27 554.60,165.62 555.10,165.33 555.60,165.07 556.10,164.87 556.60,164.71 557.10,164.61 557.60,164.56 558.10,164.58 558.60,164.70 559.10,164.92 559.60,165.22 560.10,165.59 560.60,166.02 561.10,166.50 561.60,167.01 562.10,167.81 562.60,169.01 563.10,170.34 563.60,171.54 564.10,172.40 564.60,173.03 565.10,173.59 565.60,174.16 566.10,174.85 566.60,175.72 567.10,176.43 567.60,176.90 568.10,177.28 568.60,177.60 569.10,177.90 569.60,178.20 570.10,178.54 570.60,178.94 571.10,179.37 571.60,179.82 572.10,180.28 572.60,180.75 573.10,181.23 573.60,181.71 574.10,182.18 574.60,182.65 575.10,183.12 575.60,183.60 576.10,184.12 576.60,184.68 577.10,185.33 577.60,186.19 578.10,187.17 578.60,188.14 579.10,188.99 579.60,189.59 580.10,189.84 580.60,189.94 581.10,190.02 581.60,190.09 582.10,190.15 582.60,190.18 583.10,190.19 583.60,190.10 584.10,189.77 584.60,189.26 585.10,188.64 585.60,187.98 586.10,187.36 586.60,186.85 587.10,186.52 587.60,186.43 588.10,186.48 588.60,186.60 589.10,186.76 589.60,186.95 590.10,187.14 590.60,187.32 591.10,187.46 591.60,187.54 592.10,187.55 592.60,187.47 593.10,187.32 593.60,187.11 594.10,186.85 594.60,186.55 595.10,186.22 595.60,185.89 596.10,185.55 596.60,185.15 597.10,184.60 597.60,183.93 598.10,183.22 598.60,182.52 599.10,181.88 599.60,181.37 600.10,181.05 600.60,180.97 601.10,181.36 601.60,182.17 602.10,183.24 602.60,184.40 603.10,185.47 603.60,186.30 604.10,186.88 604.60,187.45 605.10,188.01 605.60,188.56 606.10,189.07 606.60,189.53 607.10,189.94 607.60,190.28 608.10,190.54 608.60,190.70 609.10,190.76 609.60,190.73 610.10,190.63 610.60,190.48 611.10,190.29 611.60,190.08 612.10,189.84 612.60,189.60 613.10,189.37 613.60,189.15 614.10,188.97 614.60,188.82 615.10,188.72 615.60,188.69 616.10,188.72 616.60,188.81 617.10,188.94 617.60,189.09 618.10,189.25 618.60,189.40 619.10,189.53 619.60,189.61 620.10,189.63 620.60,189.63 621.10,189.63 621.60,189.62 622.10,189.61 622.60,189.60 623.10,189.56 623.60,189.43 624.10,189.08 624.60,188.28 625.10,186.94 625.60,185.14 626.10,183.02 626.60,180.65 627.10,178.10 627.60,175.42 628.10,172.63 628.60,169.80 629.10,166.96 629.60,164.15 630.10,161.43 630.60,158.83 631.10,156.40 631.60,154.16 632.10,152.15 632.60,150.38 633.10,148.86 633.60,147.61 634.10,146.61 634.60,145.86 635.10,145.33 635.60,144.99 636.10,144.82 636.60,144.77 637.10,144.77 637.60,144.88 638.10,145.17 638.60,145.71 639.10,146.53 639.60,147.68 640.10,149.17 640.60,151.00 641.10,153.17 641.60,155.65 642.10,158.41 642.60,161.39 643.10,164.54 643.60,167.78 644.10,171.07 644.60,174.31 645.10,177.44 645.60,180.40 646.10,183.09 646.60,185.40 647.10,187.15 647.60,188.15 648.10,188.55 648.60,188.66 649.10,188.68 649.60,188.69 650.10,188.69 650.60,188.71 651.10,188.79 651.60,188.92 652.10,189.08 652.60,189.24 653.10,189.39 653.60,189.52 654.10,189.61 654.60,189.63 655.10,189.61 655.60,189.56 656.10,189.49 656.60,189.40 657.10,189.30 657.60,189.19 658.10,189.08 658.60,188.98 659.10,188.88 659.60,188.80 660.10,188.74 660.60,188.70 661.10,188.69 661.60,188.89 662.10,189.32 662.60,189.89 663.10,190.55 663.60,191.20 664.10,191.79 664.60,192.33 665.10,192.95 665.60,193.59 666.10,194.19 666.60,194.69 667.10,195.01 667.60,195.10 668.10,195.09 668.60,195.09 669.10,195.07 669.60,195.03 670.10,194.97 670.60,194.89 671.10,194.77" fill="none" stroke="#9467bd" stroke-width="2.05" stroke-linejoin="round" stroke-linecap="butt"/>
</g>
<rect x="398.70" y="0.50" width="285.80" height="207.00" fill="none" stroke="#242424" stroke-width="1.1"/>
<line x1="411.60" y1="207.50" x2="411.60" y2="203.90" stroke="#242424" stroke-width="1.1"/>
<text x="411.60" y="224.00" font-size="16" text-anchor="middle" textLength="29.59" lengthAdjust="spacingAndGlyphs">600</text>
<line x1="506.00" y1="207.50" x2="506.00" y2="203.90" stroke="#242424" stroke-width="1.1"/>
<text x="506.00" y="224.00" font-size="16" text-anchor="middle" textLength="29.59" lengthAdjust="spacingAndGlyphs">800</text>
<line x1="600.40" y1="207.50" x2="600.40" y2="203.90" stroke="#242424" stroke-width="1.1"/>
<text x="600.40" y="224.00" font-size="16" text-anchor="middle" textLength="39.45" lengthAdjust="spacingAndGlyphs">1000</text>
<line x1="398.70" y1="198.30" x2="402.30" y2="198.30" stroke="#242424" stroke-width="1.1"/>
<text x="394.80" y="204.70" font-size="16" text-anchor="end" textLength="24.65" lengthAdjust="spacingAndGlyphs">0.0</text>
<line x1="398.70" y1="160.60" x2="402.30" y2="160.60" stroke="#242424" stroke-width="1.1"/>
<text x="394.80" y="167.00" font-size="16" text-anchor="end" textLength="24.65" lengthAdjust="spacingAndGlyphs">0.2</text>
<line x1="398.70" y1="122.90" x2="402.30" y2="122.90" stroke="#242424" stroke-width="1.1"/>
<text x="394.80" y="129.30" font-size="16" text-anchor="end" textLength="24.65" lengthAdjust="spacingAndGlyphs">0.4</text>
<line x1="398.70" y1="85.20" x2="402.30" y2="85.20" stroke="#242424" stroke-width="1.1"/>
<text x="394.80" y="91.60" font-size="16" text-anchor="end" textLength="24.65" lengthAdjust="spacingAndGlyphs">0.6</text>
<line x1="398.70" y1="47.50" x2="402.30" y2="47.50" stroke="#242424" stroke-width="1.1"/>
<text x="394.80" y="53.90" font-size="16" text-anchor="end" textLength="24.65" lengthAdjust="spacingAndGlyphs">0.8</text>
<line x1="398.70" y1="9.80" x2="402.30" y2="9.80" stroke="#242424" stroke-width="1.1"/>
<text x="394.80" y="16.20" font-size="16" text-anchor="end" textLength="24.65" lengthAdjust="spacingAndGlyphs">1.0</text>
<text x="541.50" y="242.60" font-size="16" text-anchor="middle" textLength="132.24" lengthAdjust="spacingAndGlyphs">wavelength [nm]</text>
<text x="363.10" y="103.70" font-size="16" text-anchor="middle" textLength="142.86" lengthAdjust="spacingAndGlyphs" transform="rotate(-90 363.10 103.70)">normalized counts</text>
<text x="413.40" y="21.00" font-size="16" font-weight="bold" text-anchor="start" textLength="24.80" lengthAdjust="spacingAndGlyphs">(b)</text>
<rect x="550.4" y="8.4" width="126.2" height="117.2" rx="3" ry="3" fill="#fff" fill-opacity="0.8" stroke="#cccccc" stroke-width="1.1"/>
<line x1="556.45" y1="20.9" x2="587.15" y2="20.9" stroke="#1f77b4" stroke-width="1.9" stroke-linecap="square"/>
<text x="600.00" y="26.40" font-size="16" text-anchor="start" textLength="60.75" lengthAdjust="spacingAndGlyphs">T=56°C</text>
<line x1="556.45" y1="43.6" x2="587.15" y2="43.6" stroke="#ff7f0e" stroke-width="1.9" stroke-linecap="square"/>
<text x="600.00" y="49.10" font-size="16" text-anchor="start" textLength="60.75" lengthAdjust="spacingAndGlyphs">T=75°C</text>
<line x1="556.45" y1="66.3" x2="587.15" y2="66.3" stroke="#2ca02c" stroke-width="1.9" stroke-linecap="square"/>
<text x="600.00" y="71.80" font-size="16" text-anchor="start" textLength="70.61" lengthAdjust="spacingAndGlyphs">T=100°C</text>
<line x1="556.45" y1="89.0" x2="587.15" y2="89.0" stroke="#d62728" stroke-width="1.9" stroke-linecap="square"/>
<text x="600.00" y="94.50" font-size="16" text-anchor="start" textLength="70.61" lengthAdjust="spacingAndGlyphs">T=150°C</text>
<line x1="556.45" y1="111.7" x2="587.15" y2="111.7" stroke="#9467bd" stroke-width="1.9" stroke-linecap="square"/>
<text x="600.00" y="117.20" font-size="16" text-anchor="start" textLength="70.61" lengthAdjust="spacingAndGlyphs">T=200°C</text>
<g clip-path="url(#clipC)">
<polyline points="48.00,305.30 52.76,304.44 57.52,292.69 62.28,298.22 67.04,305.30 71.80,304.96 76.56,304.96 81.32,292.69 86.08,282.32 90.84,286.12 95.60,303.06 100.36,298.74 105.12,300.12 109.88,306.51 114.64,295.63 119.40,294.42 124.16,305.99 128.92,305.99 133.68,308.76 138.44,322.93 143.20,328.63 147.96,343.32 152.72,337.44 157.48,353.00 162.24,368.55 167.00,391.01 171.76,409.16 176.52,426.95 181.28,439.74 186.04,446.14 190.80,449.76 195.56,450.63 200.32,449.94 205.08,447.86 209.84,445.44 214.60,439.74 219.36,430.76 224.12,403.97 228.88,386.17 233.64,356.80 238.40,348.68 243.16,332.26 247.92,314.81 252.68,317.92 257.44,317.23 262.20,300.64 266.96,295.45 271.72,299.95 276.48,308.24 281.24,307.38 286.00,296.32 290.76,317.23 295.52,307.72 300.28,308.07 305.04,299.95 309.80,291.65 314.56,298.22 319.32,308.59 324.08,297.53 328.84,299.95 333.60,289.75" fill="none" stroke="#1f77b4" stroke-width="2.05" stroke-linejoin="round" stroke-linecap="butt"/>
</g>
<rect x="48.00" y="263.20" width="285.60" height="207.30" fill="none" stroke="#242424" stroke-width="1.1"/>
<line x1="48.00" y1="470.50" x2="48.00" y2="466.90" stroke="#242424" stroke-width="1.1"/>
<text x="48.00" y="486.80" font-size="16" text-anchor="middle" textLength="22.85" lengthAdjust="spacingAndGlyphs">−3</text>
<line x1="95.60" y1="470.50" x2="95.60" y2="466.90" stroke="#242424" stroke-width="1.1"/>
<text x="95.60" y="486.80" font-size="16" text-anchor="middle" textLength="22.85" lengthAdjust="spacingAndGlyphs">−2</text>
<line x1="143.20" y1="470.50" x2="143.20" y2="466.90" stroke="#242424" stroke-width="1.1"/>
<text x="143.20" y="486.80" font-size="16" text-anchor="middle" textLength="22.85" lengthAdjust="spacingAndGlyphs">−1</text>
<line x1="190.80" y1="470.50" x2="190.80" y2="466.90" stroke="#242424" stroke-width="1.1"/>
<text x="190.80" y="486.80" font-size="16" text-anchor="middle" textLength="9.86" lengthAdjust="spacingAndGlyphs">0</text>
<line x1="238.40" y1="470.50" x2="238.40" y2="466.90" stroke="#242424" stroke-width="1.1"/>
<text x="238.40" y="486.80" font-size="16" text-anchor="middle" textLength="9.86" lengthAdjust="spacingAndGlyphs">1</text>
<line x1="286.00" y1="470.50" x2="286.00" y2="466.90" stroke="#242424" stroke-width="1.1"/>
<text x="286.00" y="486.80" font-size="16" text-anchor="middle" textLength="9.86" lengthAdjust="spacingAndGlyphs">2</text>
<line x1="333.60" y1="470.50" x2="333.60" y2="466.90" stroke="#242424" stroke-width="1.1"/>
<text x="333.60" y="486.80" font-size="16" text-anchor="middle" textLength="9.86" lengthAdjust="spacingAndGlyphs">3</text>
<line x1="48.00" y1="470.50" x2="51.60" y2="470.50" stroke="#242424" stroke-width="1.1"/>
<text x="43.90" y="476.90" font-size="16" text-anchor="end" textLength="24.65" lengthAdjust="spacingAndGlyphs">0.0</text>
<line x1="48.00" y1="384.10" x2="51.60" y2="384.10" stroke="#242424" stroke-width="1.1"/>
<text x="43.90" y="390.50" font-size="16" text-anchor="end" textLength="24.65" lengthAdjust="spacingAndGlyphs">0.5</text>
<line x1="48.00" y1="297.70" x2="51.60" y2="297.70" stroke="#242424" stroke-width="1.1"/>
<text x="43.90" y="304.10" font-size="16" text-anchor="end" textLength="24.65" lengthAdjust="spacingAndGlyphs">1.0</text>
<text x="190.80" y="505.20" font-size="16" text-anchor="middle" textLength="77.27" lengthAdjust="spacingAndGlyphs">delay [ns]</text>
<text x="12.50" y="366.00" font-size="16" text-anchor="middle" textLength="142.86" lengthAdjust="spacingAndGlyphs" transform="rotate(-90 12.50 366.00)">normalized counts</text>
<text x="63.00" y="283.60" font-size="16" font-weight="bold" text-anchor="start" textLength="22.00" lengthAdjust="spacingAndGlyphs">(c)</text>
<g clip-path="url(#clipD)">
<polyline points="397.12,455.69 398.13,456.89 399.14,457.28 400.14,458.86 401.15,457.73 402.16,457.84 403.17,457.66 404.18,458.08 405.18,457.64 406.19,457.93 407.20,458.38 408.21,456.43 409.22,456.10 410.22,455.14 411.23,456.10 412.24,456.21 413.25,456.08 414.26,456.61 415.26,454.48 416.27,455.83 417.28,455.70 418.29,454.77 419.30,453.33 420.30,454.13 421.31,454.96 422.32,454.62 423.33,453.51 424.34,454.01 425.34,454.37 426.35,453.85 427.36,452.97 428.37,451.88 429.38,454.09 430.38,453.38 431.39,453.22 432.40,454.13 433.41,452.67 434.42,452.40 435.42,450.38 436.43,450.82 437.44,451.40 438.45,449.21 439.46,449.62 440.46,450.46 441.47,449.45 442.48,449.33 443.49,449.45 444.50,448.65 445.50,450.22 446.51,448.52 447.52,447.19 448.53,446.81 449.54,446.04 450.54,445.47 451.55,444.72 452.56,446.28 453.57,444.43 454.58,446.11 455.58,444.82 456.59,445.45 457.60,442.86 458.61,442.26 459.62,443.04 460.62,441.17 461.63,442.63 462.64,441.61 463.65,441.20 464.66,441.69 465.66,440.12 466.67,438.55 467.68,440.32 468.69,438.39 469.70,438.69 470.70,436.73 471.71,437.16 472.72,436.45 473.73,435.89 474.74,435.58 475.74,436.17 476.75,433.39 477.76,434.75 478.77,432.75 479.78,431.58 480.78,431.72 481.79,429.99 482.80,428.24 483.81,428.20 484.82,427.97 485.82,428.64 486.83,426.33 487.84,425.19 488.85,424.27 489.86,423.71 490.86,421.83 491.87,421.69 492.88,420.43 493.89,418.82 494.90,418.81 495.90,416.97 496.91,413.46 497.92,412.58 498.93,412.26 499.94,409.34 500.94,406.86 501.95,404.42 502.96,403.34 503.97,401.89 504.98,399.93 505.98,396.54 506.99,394.18 508.00,391.92 509.01,388.49 510.02,385.17 511.02,380.40 512.03,376.99 513.04,371.10 514.05,365.09 515.06,358.79 516.06,354.27 517.07,347.17 518.08,341.45 519.09,332.24 520.10,328.23 521.10,324.28 522.11,317.59 523.12,311.98 524.13,305.77 525.14,299.35 526.14,295.45 527.15,291.56 528.16,287.65 529.17,282.82 530.18,280.08 531.18,276.19 532.19,273.28 533.20,273.19 534.21,272.77 535.22,271.88 536.22,273.46 537.23,275.17 538.24,276.86 539.25,279.16 540.26,282.69 541.26,285.51 542.27,290.08 543.28,291.35 544.29,294.52 545.30,300.63 546.30,306.29 547.31,311.96 548.32,318.53 549.33,323.09 550.34,330.97 551.34,336.20 552.35,342.34 553.36,346.99 554.37,351.76 555.38,355.13 556.38,360.23 557.39,366.60 558.40,375.58 559.41,380.58 560.42,384.56 561.42,388.43 562.43,388.22 563.44,392.77 564.45,396.04 565.46,395.85 566.46,399.63 567.47,400.48 568.48,402.22 569.49,405.75 570.50,408.09 571.50,410.57 572.51,412.36 573.52,415.07 574.53,415.92 575.54,416.03 576.54,415.95 577.55,417.02 578.56,416.86 579.57,418.25 580.58,419.79 581.58,420.24 582.59,422.55 583.60,422.70 584.61,423.75 585.62,423.78 586.62,424.45 587.63,426.21 588.64,426.99 589.65,428.45 590.66,428.08 591.66,428.48 592.67,428.98 593.68,430.52 594.69,429.01 595.70,430.16 596.70,431.65 597.71,432.45 598.72,432.74 599.73,432.79 600.74,433.30 601.74,433.30 602.75,433.45 603.76,433.36 604.77,433.90 605.78,435.23 606.78,435.26 607.79,436.28 608.80,436.91 609.81,435.53 610.82,437.85 611.82,436.55 612.83,438.86 613.84,438.96 614.85,438.86 615.86,440.18 616.86,440.38 617.87,441.30 618.88,441.87 619.89,441.99 620.90,442.69 621.90,441.28 622.91,442.93 623.92,441.78 624.93,445.39 625.94,443.63 626.94,443.51 627.95,444.46 628.96,443.73 629.97,444.42 630.98,445.49 631.98,445.36 632.99,444.00 634.00,446.38 635.01,446.79 636.02,447.79 637.02,447.78 638.03,449.26 639.04,448.80 640.05,447.12 641.06,448.45 642.06,449.02 643.07,448.90 644.08,448.53 645.09,449.71 646.10,448.79 647.10,449.73 648.11,450.60 649.12,449.61 650.13,452.87 651.14,451.71 652.14,451.28 653.15,452.37 654.16,452.00 655.17,452.57 656.18,452.78 657.18,450.43 658.19,452.20 659.20,452.91 660.21,452.06 661.22,453.41 662.22,452.73 663.23,453.30 664.24,452.51 665.25,454.98 666.26,453.51 667.26,454.17 668.27,455.30 669.28,453.78 670.29,455.40 671.30,453.66 672.30,454.63 673.31,454.61 674.32,455.17 675.33,454.63 676.34,456.78 677.34,455.37 678.35,455.95 679.36,455.32 680.37,455.61 681.38,455.16 682.38,456.29 683.39,454.30 684.40,453.96 685.41,455.87" fill="none" stroke="#1f77b4" stroke-width="2.05" stroke-linejoin="round" stroke-linecap="butt"/>
<polyline points="370.24,455.34 398.13,453.08 426.02,443.08 453.90,418.19 481.12,366.70 507.16,307.29 534.88,272.40 563.44,306.35 592.00,374.24 619.72,425.54 647.44,448.18 676.00,454.40 701.20,457.23" fill="none" stroke="#ff7f0e" stroke-width="2.05" stroke-linejoin="round" stroke-linecap="butt" stroke-dasharray="5.7,3.1"/>
</g>
<rect x="398.70" y="263.30" width="285.70" height="207.10" fill="none" stroke="#242424" stroke-width="1.1"/>
<line x1="449.20" y1="470.40" x2="449.20" y2="466.80" stroke="#242424" stroke-width="1.1"/>
<text x="449.20" y="486.80" font-size="16" text-anchor="middle" textLength="37.64" lengthAdjust="spacingAndGlyphs">−0.5</text>
<line x1="533.20" y1="470.40" x2="533.20" y2="466.80" stroke="#242424" stroke-width="1.1"/>
<text x="533.20" y="486.80" font-size="16" text-anchor="middle" textLength="24.65" lengthAdjust="spacingAndGlyphs">0.0</text>
<line x1="617.20" y1="470.40" x2="617.20" y2="466.80" stroke="#242424" stroke-width="1.1"/>
<text x="617.20" y="486.80" font-size="16" text-anchor="middle" textLength="24.65" lengthAdjust="spacingAndGlyphs">0.5</text>
<line x1="398.70" y1="461.00" x2="402.30" y2="461.00" stroke="#242424" stroke-width="1.1"/>
<text x="394.80" y="467.40" font-size="16" text-anchor="end" textLength="24.65" lengthAdjust="spacingAndGlyphs">0.0</text>
<line x1="398.70" y1="366.70" x2="402.30" y2="366.70" stroke="#242424" stroke-width="1.1"/>
<text x="394.80" y="373.10" font-size="16" text-anchor="end" textLength="24.65" lengthAdjust="spacingAndGlyphs">0.5</text>
<line x1="398.70" y1="272.40" x2="402.30" y2="272.40" stroke="#242424" stroke-width="1.1"/>
<text x="394.80" y="278.80" font-size="16" text-anchor="end" textLength="24.65" lengthAdjust="spacingAndGlyphs">1.0</text>
<text x="541.50" y="505.00" font-size="16" text-anchor="middle" textLength="69.94" lengthAdjust="spacingAndGlyphs">time [ns]</text>
<text x="363.30" y="366.90" font-size="16" text-anchor="middle" textLength="142.86" lengthAdjust="spacingAndGlyphs" transform="rotate(-90 363.30 366.90)">normalized counts</text>
<text x="413.40" y="283.60" font-size="16" font-weight="bold" text-anchor="start" textLength="24.60" lengthAdjust="spacingAndGlyphs">(d)</text>
<rect x="552.0" y="270.8" width="124.4" height="50.4" rx="3" ry="3" fill="#fff" fill-opacity="0.8" stroke="#cccccc" stroke-width="1.1"/>
<line x1="558.2" y1="284.1" x2="588.9" y2="284.1" stroke="#1f77b4" stroke-width="1.9" stroke-linecap="square"/>
<line x1="558.2" y1="306.2" x2="588.9" y2="306.2" stroke="#ff7f0e" stroke-width="1.9" stroke-dasharray="5.7,3.1"/>
<text x="602.00" y="289.30" font-size="16" text-anchor="start" textLength="34.66" lengthAdjust="spacingAndGlyphs">MPD</text>
<text x="602.00" y="311.30" font-size="16" text-anchor="start" textLength="69.02" lengthAdjust="spacingAndGlyphs">Excelitas</text>
</svg>
</body></html>
